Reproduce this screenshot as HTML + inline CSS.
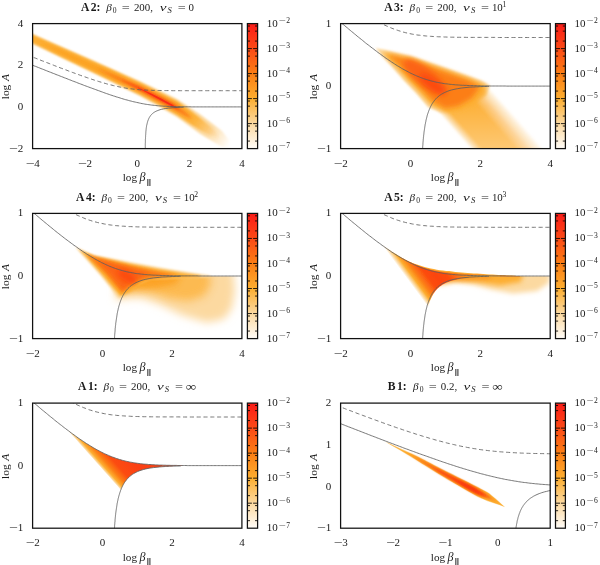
<!DOCTYPE html>
<html><head><meta charset="utf-8"><title>figure</title>
<style>html,body{margin:0;padding:0;background:#fff}svg{display:block}</style></head>
<body>
<svg width="600" height="565" viewBox="0 0 600 565">
<defs>
<filter id="b05" x="-50%" y="-50%" width="200%" height="200%"><feGaussianBlur stdDeviation="0.5"/></filter>
<filter id="b08" x="-50%" y="-50%" width="200%" height="200%"><feGaussianBlur stdDeviation="0.8"/></filter>
<filter id="b1" x="-50%" y="-50%" width="200%" height="200%"><feGaussianBlur stdDeviation="1.0"/></filter>
<filter id="b15" x="-50%" y="-50%" width="200%" height="200%"><feGaussianBlur stdDeviation="1.5"/></filter>
<filter id="b2" x="-50%" y="-50%" width="200%" height="200%"><feGaussianBlur stdDeviation="2.0"/></filter>
<filter id="b25" x="-50%" y="-50%" width="200%" height="200%"><feGaussianBlur stdDeviation="2.5"/></filter>
<filter id="b3" x="-50%" y="-50%" width="200%" height="200%"><feGaussianBlur stdDeviation="3.0"/></filter>
<filter id="b4" x="-50%" y="-50%" width="200%" height="200%"><feGaussianBlur stdDeviation="4.0"/></filter>
<filter id="b5" x="-50%" y="-50%" width="200%" height="200%"><feGaussianBlur stdDeviation="5.0"/></filter>
<filter id="b6" x="-50%" y="-50%" width="200%" height="200%"><feGaussianBlur stdDeviation="6.0"/></filter>
<linearGradient id="cb" x1="0" y1="0" x2="0" y2="1">
<stop offset="0.0" stop-color="#fb1c18"/>
<stop offset="0.2" stop-color="#fb4a16"/>
<stop offset="0.4" stop-color="#fc7e14"/>
<stop offset="0.6" stop-color="#fdae30"/>
<stop offset="0.8" stop-color="#fcd9a0"/>
<stop offset="1.0" stop-color="#fffcf8"/>
</linearGradient>
<clipPath id="cp0"><rect x="32.6" y="23.6" width="209.3" height="125.0"/></clipPath>
<clipPath id="cp1"><rect x="340.6" y="23.6" width="209.6" height="125.0"/></clipPath>
<clipPath id="cp2"><rect x="32.6" y="213.4" width="209.3" height="125.2"/></clipPath>
<clipPath id="cp3"><rect x="340.6" y="213.4" width="209.6" height="125.2"/></clipPath>
<clipPath id="cp4"><rect x="32.6" y="403.1" width="209.3" height="125.1"/></clipPath>
<clipPath id="cp5"><rect x="340.6" y="403.1" width="209.6" height="125.1"/></clipPath>
<linearGradient id="a2p" gradientUnits="userSpaceOnUse" x1="200.0" y1="124.0" x2="229.0" y2="144.0">
<stop offset="0.000" stop-color="#fcd9a0" stop-opacity="1"/>
<stop offset="0.350" stop-color="#fcd9a0" stop-opacity="0.9"/>
<stop offset="1.000" stop-color="#fcd9a0" stop-opacity="0.05"/>
</linearGradient>
<linearGradient id="a2o" gradientUnits="userSpaceOnUse" x1="186.0" y1="114.0" x2="216.0" y2="135.0">
<stop offset="0.000" stop-color="#fdae30" stop-opacity="1"/>
<stop offset="0.300" stop-color="#fdae30" stop-opacity="0.9"/>
<stop offset="1.000" stop-color="#fdae30" stop-opacity="0.1"/>
</linearGradient>
<linearGradient id="a3t" gradientUnits="userSpaceOnUse" x1="446.0" y1="121.0" x2="487.2" y2="84.7">
<stop offset="0.000" stop-color="#fcd9a0" stop-opacity="0"/>
<stop offset="0.060" stop-color="#fcd9a0" stop-opacity="0.9"/>
<stop offset="0.160" stop-color="#fdb23a" stop-opacity="1"/>
<stop offset="0.620" stop-color="#fdb23c" stop-opacity="1"/>
<stop offset="0.780" stop-color="#fdc678" stop-opacity="0.9"/>
<stop offset="0.920" stop-color="#fcd9a0" stop-opacity="0.5"/>
<stop offset="1.000" stop-color="#fcd9a0" stop-opacity="0"/>
</linearGradient>
<linearGradient id="a3w" x1="0" y1="0" x2="0" y2="1"><stop offset="0" stop-color="#fff" stop-opacity="0"/><stop offset="1" stop-color="#fff" stop-opacity="0.3"/></linearGradient>
<clipPath id="a5reg"><path d="M333.6 205.5 L334.7 206.4 L335.8 207.4 L336.9 208.3 L338.0 209.3 L339.1 210.2 L340.2 211.1 L341.4 212.1 L342.5 213.0 L343.6 214.0 L344.7 214.9 L345.8 215.8 L346.9 216.8 L348.0 217.7 L349.1 218.6 L350.2 219.5 L351.3 220.5 L352.4 221.4 L353.5 222.3 L354.6 223.2 L355.7 224.1 L356.8 225.0 L357.9 225.9 L359.0 226.8 L360.2 227.7 L361.3 228.6 L362.4 229.5 L363.5 230.4 L364.6 231.3 L365.7 232.2 L366.8 233.1 L367.9 233.9 L369.0 234.8 L370.1 235.7 L371.2 236.5 L372.3 237.4 L373.4 238.2 L374.5 239.1 L375.6 239.9 L376.7 240.7 L377.9 241.6 L379.0 242.4 L380.1 243.2 L381.2 244.0 L382.3 244.8 L383.4 245.6 L384.5 246.4 L385.6 247.2 L386.7 247.9 L387.8 248.7 L388.9 249.5 L390.0 250.2 L391.1 251.0 L392.2 251.7 L393.3 252.4 L394.4 253.1 L395.5 253.8 L396.7 254.5 L397.8 255.2 L398.9 255.9 L400.0 256.6 L401.1 257.2 L402.2 257.9 L403.3 258.5 L404.4 259.1 L405.5 259.7 L406.6 260.3 L407.7 260.9 L408.8 261.5 L409.9 262.0 L411.0 262.6 L412.1 263.1 L413.2 263.7 L414.3 264.2 L415.5 264.7 L416.6 265.1 L417.7 265.6 L418.8 266.1 L419.9 266.5 L421.0 266.9 L422.1 267.3 L423.2 267.7 L424.3 268.1 L425.4 268.5 L426.5 268.8 L427.6 269.2 L428.7 269.5 L429.8 269.8 L430.9 270.1 L432.0 270.4 L433.1 270.7 L434.3 271.0 L435.4 271.2 L436.5 271.5 L437.6 271.7 L438.7 271.9 L439.8 272.1 L440.9 272.3 L442.0 272.5 L443.1 272.7 L444.2 272.8 L445.3 273.0 L446.4 273.2 L447.5 273.3 L448.6 273.4 L449.7 273.6 L450.8 273.7 L451.9 273.8 L453.1 273.9 L454.2 274.0 L455.3 274.1 L456.4 274.2 L457.5 274.2 L458.6 274.3 L459.7 274.4 L460.8 274.5 L461.9 274.5 L463.0 274.6 L464.1 274.6 L465.2 274.7 L466.3 274.7 L467.4 274.8 L468.5 274.8 L469.6 274.9 L470.7 274.9 L471.9 274.9 L473.0 275.0 L474.1 275.0 L475.2 275.0 L476.3 275.1 L477.4 275.1 L478.5 275.1 L479.6 275.1 L480.7 275.1 L481.8 275.2 L482.9 275.2 L484.0 275.2 L485.1 275.2 L486.2 275.2 L487.3 275.2 L488.4 275.2 L489.5 275.3 L490.7 275.3 L491.8 275.3 L492.9 275.3 L494.0 275.3 L495.1 275.3 L496.2 275.3 L497.3 275.3 L498.4 275.3 L499.5 275.3 L500.6 275.3 L501.7 275.3 L502.8 275.3 L503.9 275.3 L505.0 275.3 L506.1 275.4 L507.2 275.4 L508.4 275.4 L509.5 275.4 L510.6 275.4 L511.7 275.4 L512.8 275.4 L513.9 275.4 L515.0 275.4 L516.1 275.4 L517.2 275.4 L518.3 275.4 L519.4 275.4 L520.5 275.4 L521.6 275.4 L522.7 275.4 L523.8 275.4 L524.9 275.4 L526.0 275.4 L527.2 275.4 L528.3 275.4 L529.4 275.4 L530.5 275.4 L531.6 275.4 L532.7 275.4 L533.8 275.4 L534.9 275.4 L536.0 275.4 L537.1 275.4 L538.2 275.4 L539.3 275.4 L540.4 275.4 L541.5 275.4 L542.6 275.4 L543.7 275.4 L544.8 275.4 L546.0 275.4 L547.1 275.4 L548.2 275.4 L549.3 275.4 L550.4 275.4 L551.5 275.4 L552.6 275.4 L553.7 275.4 L551.2 276.6 L549.8 276.6 L548.4 276.6 L547.0 276.6 L545.6 276.6 L544.2 276.6 L542.8 276.6 L541.5 276.6 L540.1 276.6 L538.7 276.6 L537.3 276.6 L535.9 276.6 L534.5 276.6 L533.1 276.6 L531.7 276.6 L530.3 276.6 L528.9 276.6 L527.5 276.6 L526.1 276.6 L524.7 276.6 L523.3 276.6 L522.0 276.6 L520.6 276.6 L519.2 276.6 L517.8 276.6 L516.4 276.7 L515.0 276.7 L513.6 276.7 L512.2 276.7 L510.8 276.7 L509.4 276.7 L508.0 276.7 L506.6 276.7 L505.2 276.7 L503.8 276.7 L502.5 276.7 L501.1 276.7 L499.7 276.8 L498.3 276.8 L496.9 276.8 L495.5 276.8 L494.1 276.8 L492.7 276.9 L491.3 276.9 L489.9 276.9 L488.5 276.9 L487.1 277.0 L485.7 277.0 L484.3 277.0 L483.0 277.1 L481.6 277.1 L480.2 277.2 L478.8 277.3 L477.4 277.3 L476.0 277.4 L474.6 277.5 L473.2 277.5 L471.8 277.6 L470.4 277.7 L469.0 277.9 L462.7 278.5 L458.3 279.2 L455.0 279.9 L452.4 280.5 L450.1 281.2 L448.3 281.9 L446.6 282.6 L445.2 283.2 L443.9 283.9 L442.7 284.6 L441.7 285.3 L440.7 285.9 L439.9 286.6 L439.0 287.3 L438.3 288.0 L437.6 288.6 L436.9 289.3 L436.3 290.0 L435.8 290.6 L435.2 291.3 L434.7 292.0 L434.2 292.7 L433.8 293.3 L433.3 294.0 L432.9 294.7 L432.5 295.4 L432.2 296.0 L431.8 296.7 L431.5 297.4 L431.2 298.1 L430.9 298.7 L430.6 299.4 L430.3 300.1 L430.0 300.7 L429.8 301.4 L429.5 302.1 L429.3 302.8 L429.1 303.4 L428.8 304.1 L428.6 304.8 L428.4 305.5 L428.2 306.1 L428.0 306.8 L427.9 307.5 L427.7 308.2 L427.5 308.8 L427.4 309.5 L427.2 310.2 L427.0 310.8 L426.9 311.5 L426.8 312.2 L426.6 312.9 L426.5 313.5 L426.4 314.2 L426.2 314.9 L426.1 315.6 L426.0 316.2 L425.9 316.9 L425.8 317.6 L425.7 318.3 L425.6 318.9 L425.5 319.6 L425.4 320.3 L425.3 320.9 L425.2 321.6 L425.1 322.3 L425.0 323.0 L424.9 323.6 L424.9 324.3 L424.8 325.0 L424.7 325.7 L424.6 326.3 L424.6 327.0 L424.5 327.7 L424.4 328.4 L424.4 329.0 L424.3 329.7 L424.2 330.4 L424.2 331.0 L424.1 331.7 L424.1 332.4 L424.0 333.1 L424.0 333.7 L423.9 334.4 L423.9 335.1 L423.8 335.8 L423.8 336.4 L423.7 337.1 L423.7 337.8 L423.6 338.5 L423.6 339.1 L423.5 339.8 L423.5 340.5 L423.5 341.1 L423.4 341.8 L423.4 342.5 L423.4 343.2 L423.3 343.8 L423.3 344.5 L423.3 345.2 L423.2 345.9 L423.2 346.5 L423.2 347.2 L423.1 347.9 L423.1 348.6 L423.1 349.2 L423.0 349.9 L423.0 350.6 L423.0 351.2 L423.0 351.9 L422.9 352.6 L422.9 353.3 L422.9 353.9 L422.9 354.6 L422.8 355.3 L422.8 356.0 L422.8 356.6 L422.8 357.3 L422.8 358.0 L422.8 368.6 L330.6 368.6Z"/></clipPath>
<linearGradient id="a5g" gradientUnits="userSpaceOnUse" x1="404.4" y1="275.1" x2="452.6" y2="239.4">
<stop offset="0.000" stop-color="#fcd9a0" stop-opacity="0"/>
<stop offset="0.037" stop-color="#fcd9a0" stop-opacity="0.9"/>
<stop offset="0.092" stop-color="#fdae30" stop-opacity="1"/>
<stop offset="0.175" stop-color="#fc7e14" stop-opacity="1"/>
<stop offset="0.292" stop-color="#fc4c10" stop-opacity="1"/>
<stop offset="0.417" stop-color="#fb4410" stop-opacity="1"/>
<stop offset="0.567" stop-color="#fc4c10" stop-opacity="1"/>
<stop offset="0.750" stop-color="#fc7e14" stop-opacity="1"/>
<stop offset="1.000" stop-color="#fdae30" stop-opacity="1"/>
</linearGradient>
<clipPath id="a1reg"><path d="M25.6 395.8 L26.7 396.7 L27.8 397.7 L28.9 398.6 L30.0 399.6 L31.1 400.5 L32.2 401.4 L33.4 402.4 L34.5 403.3 L35.6 404.3 L36.7 405.2 L37.8 406.1 L38.9 407.1 L40.0 408.0 L41.1 408.9 L42.2 409.8 L43.3 410.8 L44.4 411.7 L45.5 412.6 L46.6 413.5 L47.7 414.4 L48.8 415.3 L49.9 416.2 L51.0 417.1 L52.1 418.0 L53.2 418.9 L54.3 419.8 L55.4 420.7 L56.5 421.6 L57.6 422.5 L58.8 423.3 L59.9 424.2 L61.0 425.1 L62.1 425.9 L63.2 426.8 L64.3 427.6 L65.4 428.5 L66.5 429.3 L67.6 430.2 L68.7 431.0 L69.8 431.8 L70.9 432.7 L72.0 433.5 L73.1 434.3 L74.2 435.1 L75.3 435.9 L76.4 436.7 L77.5 437.4 L78.6 438.2 L79.7 439.0 L80.8 439.7 L81.9 440.5 L83.0 441.2 L84.2 442.0 L85.3 442.7 L86.4 443.4 L87.5 444.1 L88.6 444.8 L89.7 445.5 L90.8 446.2 L91.9 446.8 L93.0 447.5 L94.1 448.1 L95.2 448.8 L96.3 449.4 L97.4 450.0 L98.5 450.6 L99.6 451.2 L100.7 451.7 L101.8 452.3 L102.9 452.9 L104.0 453.4 L105.1 453.9 L106.2 454.4 L107.3 454.9 L108.4 455.4 L109.6 455.9 L110.7 456.3 L111.8 456.8 L112.9 457.2 L114.0 457.6 L115.1 458.0 L116.2 458.4 L117.3 458.7 L118.4 459.1 L119.5 459.4 L120.6 459.8 L121.7 460.1 L122.8 460.4 L123.9 460.7 L125.0 461.0 L126.1 461.2 L127.2 461.5 L128.3 461.7 L129.4 461.9 L130.5 462.2 L131.6 462.4 L132.7 462.6 L133.8 462.8 L135.0 462.9 L136.1 463.1 L137.2 463.3 L138.3 463.4 L139.4 463.5 L140.5 463.7 L141.6 463.8 L142.7 463.9 L143.8 464.0 L144.9 464.1 L146.0 464.2 L147.1 464.3 L148.2 464.4 L149.3 464.5 L150.4 464.6 L151.5 464.6 L152.6 464.7 L153.7 464.8 L154.8 464.8 L155.9 464.9 L157.0 464.9 L158.1 465.0 L159.2 465.0 L160.4 465.1 L161.5 465.1 L162.6 465.2 L163.7 465.2 L164.8 465.2 L165.9 465.2 L167.0 465.3 L168.1 465.3 L169.2 465.3 L170.3 465.3 L171.4 465.4 L172.5 465.4 L173.6 465.4 L174.7 465.4 L175.8 465.4 L176.9 465.5 L178.0 465.5 L179.1 465.5 L180.2 465.5 L181.3 465.5 L182.4 465.5 L183.5 465.5 L184.6 465.5 L185.8 465.5 L186.9 465.5 L188.0 465.6 L189.1 465.6 L190.2 465.6 L191.3 465.6 L192.4 465.6 L193.5 465.6 L194.6 465.6 L195.7 465.6 L196.8 465.6 L197.9 465.6 L199.0 465.6 L200.1 465.6 L201.2 465.6 L202.3 465.6 L203.4 465.6 L204.5 465.6 L205.6 465.6 L206.7 465.6 L207.8 465.6 L208.9 465.6 L210.0 465.6 L211.2 465.6 L212.3 465.6 L213.4 465.6 L214.5 465.6 L215.6 465.6 L216.7 465.6 L217.8 465.6 L218.9 465.6 L220.0 465.6 L221.1 465.6 L222.2 465.6 L223.3 465.6 L224.4 465.6 L225.5 465.6 L226.6 465.6 L227.7 465.6 L228.8 465.6 L229.9 465.6 L231.0 465.6 L232.1 465.6 L233.2 465.6 L234.3 465.6 L235.4 465.6 L236.6 465.6 L237.7 465.6 L238.8 465.6 L239.9 465.6 L241.0 465.6 L242.1 465.6 L243.2 465.6 L244.3 465.6 L245.4 465.6 L241.9 465.7 L240.5 465.7 L239.1 465.7 L237.7 465.7 L236.3 465.7 L234.9 465.7 L233.6 465.7 L232.2 465.7 L230.8 465.7 L229.4 465.7 L228.0 465.7 L226.6 465.7 L225.2 465.7 L223.8 465.7 L222.4 465.7 L221.0 465.7 L219.6 465.7 L218.3 465.7 L216.9 465.7 L215.5 465.7 L214.1 465.7 L212.7 465.7 L211.3 465.7 L209.9 465.7 L208.5 465.7 L207.1 465.7 L205.7 465.7 L204.3 465.7 L203.0 465.7 L201.6 465.7 L200.2 465.7 L198.8 465.7 L197.4 465.8 L196.0 465.8 L194.6 465.8 L193.2 465.8 L191.8 465.8 L190.4 465.8 L189.1 465.8 L187.7 465.8 L186.3 465.9 L184.9 465.9 L183.5 465.9 L182.1 465.9 L180.7 466.0 L179.3 466.0 L177.9 466.0 L176.5 466.1 L175.1 466.1 L173.8 466.1 L172.4 466.2 L171.0 466.2 L169.6 466.3 L168.2 466.4 L166.8 466.4 L165.4 466.5 L164.0 466.6 L162.6 466.7 L161.2 466.8 L159.8 466.9 L153.5 467.6 L149.2 468.2 L145.8 468.9 L143.2 469.6 L141.0 470.3 L139.1 470.9 L137.5 471.6 L136.0 472.3 L134.8 473.0 L133.6 473.6 L132.5 474.3 L131.6 475.0 L130.7 475.6 L129.9 476.3 L129.2 477.0 L128.5 477.7 L127.8 478.3 L127.2 479.0 L126.6 479.7 L126.1 480.4 L125.6 481.0 L125.1 481.7 L124.6 482.4 L124.2 483.0 L123.8 483.7 L123.4 484.4 L123.0 485.1 L122.7 485.7 L122.4 486.4 L122.0 487.1 L121.7 487.8 L121.4 488.4 L121.2 489.1 L120.9 489.8 L120.6 490.4 L120.4 491.1 L120.2 491.8 L119.9 492.5 L119.7 493.1 L119.5 493.8 L119.3 494.5 L119.1 495.2 L118.9 495.8 L118.7 496.5 L118.6 497.2 L118.4 497.9 L118.2 498.5 L118.1 499.2 L117.9 499.9 L117.8 500.5 L117.6 501.2 L117.5 501.9 L117.4 502.6 L117.2 503.2 L117.1 503.9 L117.0 504.6 L116.9 505.3 L116.8 505.9 L116.7 506.6 L116.6 507.3 L116.5 507.9 L116.4 508.6 L116.3 509.3 L116.2 510.0 L116.1 510.6 L116.0 511.3 L115.9 512.0 L115.8 512.7 L115.7 513.3 L115.7 514.0 L115.6 514.7 L115.5 515.3 L115.4 516.0 L115.4 516.7 L115.3 517.4 L115.2 518.0 L115.2 518.7 L115.1 519.4 L115.1 520.1 L115.0 520.7 L115.0 521.4 L114.9 522.1 L114.8 522.7 L114.8 523.4 L114.7 524.1 L114.7 524.8 L114.6 525.4 L114.6 526.1 L114.6 526.8 L114.5 527.5 L114.5 528.1 L114.4 528.8 L114.4 529.5 L114.3 530.1 L114.3 530.8 L114.3 531.5 L114.2 532.2 L114.2 532.8 L114.2 533.5 L114.1 534.2 L114.1 534.9 L114.1 535.5 L114.0 536.2 L114.0 536.9 L114.0 537.5 L114.0 538.2 L113.9 538.9 L113.9 539.6 L113.9 540.2 L113.8 540.9 L113.8 541.6 L113.8 542.3 L113.8 542.9 L113.8 543.6 L113.7 544.3 L113.7 544.9 L113.7 545.6 L113.7 546.3 L113.6 547.0 L113.6 558.2 L22.6 558.2Z"/></clipPath>
<linearGradient id="a1g" gradientUnits="userSpaceOnUse" x1="95.8" y1="462.2" x2="133.1" y2="429.0">
<stop offset="0.000" stop-color="#fcd9a0" stop-opacity="0"/>
<stop offset="0.020" stop-color="#fcd9a0" stop-opacity="1"/>
<stop offset="0.064" stop-color="#fdae30" stop-opacity="1"/>
<stop offset="0.150" stop-color="#fc7e14" stop-opacity="1"/>
<stop offset="0.280" stop-color="#fc4c10" stop-opacity="1"/>
<stop offset="0.560" stop-color="#fb4014" stop-opacity="1"/>
<stop offset="1.000" stop-color="#fb4414" stop-opacity="1"/>
</linearGradient>
</defs>
<rect width="600" height="565" fill="#fff"/>
<g clip-path="url(#cp0)">
<path d="M26.0 31.1 L32.6 34.0 L60.0 46.0 L90.0 59.1 L111.0 68.4 L140.0 81.2 L162.0 91.8 L177.0 99.0 L200.0 114.2 L222.0 131.0 L229.0 140.0 L229.0 148.0 L222.0 147.0 L200.0 133.8 L177.0 117.0 L162.0 108.2 L140.0 96.0 L111.0 81.6 L90.0 71.5 L60.0 57.0 L32.6 43.8 L26.0 40.7Z" fill="url(#a2p)" filter="url(#b1)"/>
<path d="M26.0 31.8 L32.6 34.7 L60.0 46.8 L90.0 60.0 L111.0 69.3 L140.0 82.5 L162.0 93.4 L177.0 101.0 L190.0 110.2 L200.0 118.0 L210.0 126.3 L218.0 133.8 L218.0 138.8 L210.0 135.3 L200.0 130.0 L190.0 123.8 L177.0 115.0 L162.0 106.6 L140.0 94.7 L111.0 80.7 L90.0 70.6 L60.0 56.2 L32.6 43.1 L26.0 40.0Z" fill="url(#a2o)" filter="url(#b1)"/>
<path d="M40.0 42.0 L60.0 49.5 L90.0 62.4 L111.0 71.7 L125.0 78.6 L125.0 84.6 L111.0 78.3 L90.0 68.2 L60.0 53.5 L40.0 42.6Z" fill="#fca220" filter="url(#b15)"/>
<path d="M98.0 68.7 L115.0 75.3 L130.0 81.3 L140.0 85.6 L162.0 96.6 L177.0 104.6 L185.0 111.4 L192.0 118.1 L192.0 118.7 L185.0 115.8 L177.0 111.4 L162.0 103.4 L140.0 91.6 L130.0 86.5 L115.0 78.5 L98.0 69.3Z" fill="#fc7e14" filter="url(#b15)"/>
<path d="M122.0 80.0 L132.0 83.9 L140.0 87.2 L162.0 98.3 L172.0 103.6 L179.0 109.1 L179.0 109.7 L172.0 107.0 L162.0 101.7 L140.0 90.0 L132.0 85.7 L122.0 80.4Z" fill="#fc4c10" filter="url(#b08)"/>
<path d="M138.0 87.5 L150.0 93.1 L162.0 99.1 L172.0 104.4 L177.0 107.8 L177.0 108.2 L172.0 106.2 L162.0 100.9 L150.0 94.5 L138.0 87.9Z" fill="#f82a16" filter="url(#b05)"/>
<path d="M27.4 63.1 L28.7 63.7 L30.1 64.2 L31.5 64.8 L32.8 65.3 L34.2 65.9 L35.6 66.4 L36.9 66.9 L38.3 67.5 L39.7 68.0 L41.0 68.6 L42.4 69.1 L43.8 69.6 L45.1 70.2 L46.5 70.7 L47.9 71.3 L49.2 71.8 L50.6 72.3 L52.0 72.9 L53.3 73.4 L54.7 73.9 L56.0 74.5 L57.4 75.0 L58.8 75.5 L60.1 76.1 L61.5 76.6 L62.9 77.1 L64.2 77.7 L65.6 78.2 L67.0 78.7 L68.3 79.3 L69.7 79.8 L71.1 80.3 L72.4 80.9 L73.8 81.4 L75.2 81.9 L76.5 82.4 L77.9 83.0 L79.3 83.5 L80.6 84.0 L82.0 84.5 L83.4 85.1 L84.7 85.6 L86.1 86.1 L87.5 86.6 L88.8 87.1 L90.2 87.6 L91.6 88.1 L92.9 88.6 L94.3 89.1 L95.7 89.6 L97.0 90.1 L98.4 90.6 L99.8 91.1 L101.1 91.6 L102.5 92.1 L103.8 92.6 L105.2 93.1 L106.6 93.6 L107.9 94.0 L109.3 94.5 L110.7 95.0 L112.0 95.4 L113.4 95.9 L114.8 96.3 L116.1 96.8 L117.5 97.2 L118.9 97.6 L120.2 98.0 L121.6 98.5 L123.0 98.9 L124.3 99.3 L125.7 99.7 L127.1 100.0 L128.4 100.4 L129.8 100.8 L131.2 101.1 L132.5 101.5 L133.9 101.8 L135.3 102.1 L136.6 102.4 L138.0 102.7 L139.4 103.0 L140.7 103.3 L142.1 103.6 L143.5 103.8 L144.8 104.1 L146.2 104.3 L147.6 104.5 L148.9 104.7 L150.3 104.9 L151.6 105.1 L153.0 105.2 L154.4 105.4 L155.7 105.5 L157.1 105.7 L158.5 105.8 L159.8 105.9 L161.2 106.0 L162.6 106.1 L163.9 106.2 L165.3 106.2 L166.7 106.3 L168.0 106.4 L169.4 106.4 L170.8 106.5 L172.1 106.5 L173.5 106.6 L174.9 106.6 L176.2 106.7 L177.6 106.7 L179.0 106.7 L180.3 106.7 L181.7 106.8 L183.1 106.8 L184.4 106.8 L185.8 106.8 L187.2 106.8 L188.5 106.8 L189.9 106.8 L191.3 106.9 L192.6 106.9 L194.0 106.9 L195.4 106.9 L196.7 106.9 L198.1 106.9 L199.4 106.9 L200.8 106.9 L202.2 106.9 L203.5 106.9 L204.9 106.9 L206.3 106.9 L207.6 106.9 L209.0 106.9 L210.4 106.9 L211.7 106.9 L213.1 106.9 L214.5 106.9 L215.8 106.9 L217.2 106.9 L218.6 106.9 L219.9 106.9 L221.3 106.9 L222.7 106.9 L224.0 106.9 L225.4 106.9 L226.8 106.9 L228.1 106.9 L229.5 106.9 L230.9 106.9 L232.2 106.9 L233.6 106.9 L235.0 106.9 L236.3 106.9 L237.7 106.9 L239.1 106.9 L240.4 106.9 L241.8 106.9 L243.2 106.9 L244.5 106.9" fill="none" stroke="#606060" stroke-width="0.85"/>
<path d="M145.2 154.8 L145.2 154.5 L145.2 154.1 L145.2 153.7 L145.2 153.3 L145.2 152.9 L145.2 152.5 L145.2 152.1 L145.2 151.7 L145.2 151.3 L145.2 150.9 L145.2 150.5 L145.2 150.1 L145.2 149.7 L145.2 149.3 L145.2 148.9 L145.2 148.5 L145.2 148.1 L145.3 147.7 L145.3 147.3 L145.3 146.9 L145.3 146.5 L145.3 146.1 L145.3 145.7 L145.3 145.3 L145.3 144.9 L145.3 144.5 L145.3 144.1 L145.3 143.7 L145.3 143.3 L145.3 142.9 L145.4 142.5 L145.4 142.1 L145.4 141.7 L145.4 141.3 L145.4 140.9 L145.4 140.5 L145.4 140.1 L145.4 139.7 L145.4 139.3 L145.5 138.9 L145.5 138.5 L145.5 138.1 L145.5 137.7 L145.5 137.3 L145.5 136.9 L145.6 136.5 L145.6 136.1 L145.6 135.7 L145.6 135.3 L145.7 134.9 L145.7 134.5 L145.7 134.1 L145.7 133.7 L145.8 133.3 L145.8 132.9 L145.8 132.5 L145.9 132.1 L145.9 131.7 L145.9 131.3 L146.0 130.9 L146.0 130.5 L146.0 130.1 L146.1 129.7 L146.1 129.3 L146.2 128.9 L146.2 128.5 L146.3 128.1 L146.3 127.7 L146.4 127.3 L146.4 126.9 L146.5 126.5 L146.6 126.1 L146.6 125.7 L146.7 125.3 L146.8 124.9 L146.9 124.5 L147.0 124.1 L147.1 123.7 L147.2 123.3 L147.3 122.9 L147.4 122.5 L147.5 122.1 L147.6 121.7 L147.7 121.3 L147.8 120.9 L148.0 120.5 L148.1 120.1 L148.3 119.7 L148.5 119.3 L148.6 118.9 L148.8 118.5 L149.0 118.1 L149.2 117.7 L149.5 117.3 L149.7 116.9 L150.0 116.5 L150.2 116.1 L150.5 115.7 L150.8 115.3 L151.2 114.9 L151.5 114.5 L151.9 114.1 L152.4 113.7 L152.8 113.3 L153.3 112.9 L153.9 112.5 L154.5 112.1 L155.2 111.7 L156.0 111.3 L156.8 110.9 L157.8 110.5 L158.9 110.1 L160.1 109.7 L161.6 109.3 L163.4 108.9 L165.7 108.5 L168.7 108.1 L173.0 107.7 L180.4 107.3 L181.4 107.3 L182.4 107.3 L183.5 107.2" fill="none" stroke="#606060" stroke-width="0.85"/>
<path d="M27.4 55.0 L28.7 55.5 L30.1 56.1 L31.5 56.6 L32.8 57.1 L34.2 57.7 L35.6 58.2 L36.9 58.7 L38.3 59.3 L39.7 59.8 L41.0 60.4 L42.4 60.9 L43.8 61.4 L45.1 62.0 L46.5 62.5 L47.9 63.0 L49.2 63.5 L50.6 64.1 L52.0 64.6 L53.3 65.1 L54.7 65.7 L56.0 66.2 L57.4 66.7 L58.8 67.2 L60.1 67.8 L61.5 68.3 L62.9 68.8 L64.2 69.3 L65.6 69.8 L67.0 70.3 L68.3 70.9 L69.7 71.4 L71.1 71.9 L72.4 72.4 L73.8 72.9 L75.2 73.4 L76.5 73.9 L77.9 74.4 L79.3 74.9 L80.6 75.4 L82.0 75.9 L83.4 76.3 L84.7 76.8 L86.1 77.3 L87.5 77.8 L88.8 78.2 L90.2 78.7 L91.6 79.2 L92.9 79.6 L94.3 80.1 L95.7 80.5 L97.0 80.9 L98.4 81.4 L99.8 81.8 L101.1 82.2 L102.5 82.6 L103.8 83.0 L105.2 83.4 L106.6 83.8 L107.9 84.2 L109.3 84.5 L110.7 84.9 L112.0 85.2 L113.4 85.6 L114.8 85.9 L116.1 86.2 L117.5 86.5 L118.9 86.8 L120.2 87.1 L121.6 87.3 L123.0 87.6 L124.3 87.8 L125.7 88.1 L127.1 88.3 L128.4 88.5 L129.8 88.7 L131.2 88.8 L132.5 89.0 L133.9 89.2 L135.3 89.3 L136.6 89.4 L138.0 89.6 L139.4 89.7 L140.7 89.8 L142.1 89.9 L143.5 90.0 L144.8 90.0 L146.2 90.1 L147.6 90.2 L148.9 90.2 L150.3 90.3 L151.6 90.3 L153.0 90.4 L154.4 90.4 L155.7 90.4 L157.1 90.5 L158.5 90.5 L159.8 90.5 L161.2 90.5 L162.6 90.6 L163.9 90.6 L165.3 90.6 L166.7 90.6 L168.0 90.6 L169.4 90.6 L170.8 90.6 L172.1 90.7 L173.5 90.7 L174.9 90.7 L176.2 90.7 L177.6 90.7 L179.0 90.7 L180.3 90.7 L181.7 90.7 L183.1 90.7 L184.4 90.7 L185.8 90.7 L187.2 90.7 L188.5 90.7 L189.9 90.7 L191.3 90.7 L192.6 90.7 L194.0 90.7 L195.4 90.7 L196.7 90.7 L198.1 90.7 L199.4 90.7 L200.8 90.7 L202.2 90.7 L203.5 90.7 L204.9 90.7 L206.3 90.7 L207.6 90.7 L209.0 90.7 L210.4 90.7 L211.7 90.7 L213.1 90.7 L214.5 90.7 L215.8 90.7 L217.2 90.7 L218.6 90.7 L219.9 90.7 L221.3 90.7 L222.7 90.7 L224.0 90.7 L225.4 90.7 L226.8 90.7 L228.1 90.7 L229.5 90.7 L230.9 90.7 L232.2 90.7 L233.6 90.7 L235.0 90.7 L236.3 90.7 L237.7 90.7 L239.1 90.7 L240.4 90.7 L241.8 90.7 L243.2 90.7 L244.5 90.7" fill="none" stroke="#606060" stroke-width="0.85" stroke-dasharray="4.1 2.7"/>
</g>
<rect x="247.4" y="23.6" width="10.2" height="125.0" fill="url(#cb)"/>
<path d="M247.4 48.60h4.5M257.6 48.60h-4.5M247.4 41.07h2.6M257.6 41.07h-2.6M247.4 31.13h2.6M257.6 31.13h-2.6M247.4 26.02h2.6M257.6 26.02h-2.6M247.4 73.60h4.5M257.6 73.60h-4.5M247.4 66.07h2.6M257.6 66.07h-2.6M247.4 56.13h2.6M257.6 56.13h-2.6M247.4 51.02h2.6M257.6 51.02h-2.6M247.4 98.60h4.5M257.6 98.60h-4.5M247.4 91.07h2.6M257.6 91.07h-2.6M247.4 81.13h2.6M257.6 81.13h-2.6M247.4 76.02h2.6M257.6 76.02h-2.6M247.4 123.60h4.5M257.6 123.60h-4.5M247.4 116.07h2.6M257.6 116.07h-2.6M247.4 106.13h2.6M257.6 106.13h-2.6M247.4 101.02h2.6M257.6 101.02h-2.6M247.4 141.07h2.6M257.6 141.07h-2.6M247.4 131.13h2.6M257.6 131.13h-2.6M247.4 126.02h2.6M257.6 126.02h-2.6" stroke="#000" stroke-width="0.85" fill="none"/>
<rect x="247.4" y="23.6" width="10.2" height="125.0" fill="none" stroke="#111" stroke-width="1.25"/>
<rect x="32.6" y="23.6" width="209.3" height="125.0" fill="none" stroke="#111" stroke-width="1.25"/>
<g font-family="'Liberation Serif','DejaVu Serif',serif" fill="#1a1a1a">
<text transform="translate(25.50 166.80) scale(1.43 1)" font-size="11">−</text>
<text x="34.2" y="166.8" font-size="11">4</text>
<text transform="translate(77.83 166.80) scale(1.43 1)" font-size="11">−</text>
<text x="86.5" y="166.8" font-size="11">2</text>
<text x="137.2" y="166.8" font-size="11" text-anchor="middle">0</text>
<text x="189.6" y="166.8" font-size="11" text-anchor="middle">2</text>
<text x="241.9" y="166.8" font-size="11" text-anchor="middle">4</text>
<text x="23.3" y="151.6" font-size="11" text-anchor="end">2</text>
<text transform="translate(8.75 151.60) scale(1.43 1)" font-size="11">−</text>
<text x="23.3" y="109.9" font-size="11" text-anchor="end">0</text>
<text x="23.3" y="68.3" font-size="11" text-anchor="end">2</text>
<text x="23.3" y="26.6" font-size="11" text-anchor="end">4</text>
<text x="266.8" y="26.6" font-size="11">10</text>
<text transform="translate(278.80 23.00) scale(1.65 1)" font-size="7.6">−</text>
<text x="286.3" y="23.0" font-size="7.6">2</text>
<text x="266.8" y="51.6" font-size="11">10</text>
<text transform="translate(278.80 48.00) scale(1.65 1)" font-size="7.6">−</text>
<text x="286.3" y="48.0" font-size="7.6">3</text>
<text x="266.8" y="76.6" font-size="11">10</text>
<text transform="translate(278.80 73.00) scale(1.65 1)" font-size="7.6">−</text>
<text x="286.3" y="73.0" font-size="7.6">4</text>
<text x="266.8" y="101.6" font-size="11">10</text>
<text transform="translate(278.80 98.00) scale(1.65 1)" font-size="7.6">−</text>
<text x="286.3" y="98.0" font-size="7.6">5</text>
<text x="266.8" y="126.6" font-size="11">10</text>
<text transform="translate(278.80 123.00) scale(1.65 1)" font-size="7.6">−</text>
<text x="286.3" y="123.0" font-size="7.6">6</text>
<text x="266.8" y="151.6" font-size="11">10</text>
<text transform="translate(278.80 148.00) scale(1.65 1)" font-size="7.6">−</text>
<text x="286.3" y="148.0" font-size="7.6">7</text>
<text x="122.7" y="181.1" font-size="11.2">log</text>
<text x="139.4" y="181.1" font-size="12" font-style="italic">β</text>
<text transform="translate(145.90 185.60) scale(1.9 1)" font-size="10.8">‖</text>
<text transform="translate(8.8 86.7) rotate(-90)" font-size="11.4" text-anchor="middle" word-spacing="0.8">log <tspan font-style="italic">A</tspan></text>
<text x="81.0" y="11.3" font-size="11.6" font-weight="bold">A<tspan dx="1.4">2:</tspan></text>
<text x="106.2" y="11.3" font-size="11.2" font-style="italic">β</text>
<text x="112.8" y="13.2" font-size="7.6">0</text>
<text transform="translate(121.8 11.3) scale(1.3 1)" font-size="10.9">=</text>
<text x="133.9" y="11.3" font-size="10.9">200,</text>
<text transform="translate(159.8 11.3) scale(1.4 1)" font-size="10.9" font-style="italic">ν</text>
<text x="167.6" y="13.3" font-size="8.6" font-style="italic">S</text>
<text transform="translate(177.8 11.3) scale(1.3 1)" font-size="10.9">=</text>
<text x="188.6" y="11.3" font-size="10.9">0</text>
</g>
<g clip-path="url(#cp1)">
<path d="M375.5 48.0 L393.0 52.0 L411.0 56.0 L446.0 68.0 L470.0 76.5 L481.0 80.5 L490.0 85.5 L486.0 96.0 L472.0 106.0 L458.0 112.0 L442.0 113.0 L428.0 107.0 L416.0 93.0 L404.0 80.5 L393.0 68.0 L384.0 58.0Z" fill="#fcd9a0" filter="url(#b1)"/>
<path d="M424.0 102.0 L440.0 78.0 L490.0 85.5 L500.0 86.0 L552.0 153.0 L468.0 153.0Z" fill="url(#a3t)" filter="url(#b1)"/>
<rect x="440" y="105" width="112" height="45" fill="url(#a3w)"/>
<path d="M381.0 51.5 L393.0 54.0 L411.0 58.0 L446.0 70.0 L470.0 78.5 L486.0 85.0 L486.0 94.0 L474.0 104.0 L460.0 110.0 L446.0 112.0 L432.0 106.0 L419.0 92.0 L407.0 79.5 L396.0 67.0Z" fill="#fdae30" filter="url(#b2)"/>
<path d="M387.0 54.5 L411.0 60.5 L446.0 72.5 L468.0 80.5 L480.0 87.0 L472.0 98.0 L458.0 106.0 L445.0 108.0 L433.0 101.0 L421.0 88.0 L409.0 75.5 L398.0 63.0Z" fill="#fc7e14" filter="url(#b25)"/>
<ellipse cx="425.8" cy="77.5" rx="27.0" ry="8.5" transform="rotate(38.0 425.8 77.5)" fill="#fc6412" filter="url(#b25)"/>
<ellipse cx="432.0" cy="83.5" rx="15.0" ry="5.5" transform="rotate(38.0 432.0 83.5)" fill="#fc4c10" filter="url(#b25)"/>
<path d="M333.6 16.3 L335.0 17.5 L336.4 18.6 L337.8 19.8 L339.1 21.0 L340.5 22.2 L341.9 23.4 L343.3 24.5 L344.7 25.7 L346.1 26.9 L347.5 28.0 L348.8 29.2 L350.2 30.3 L351.6 31.5 L353.0 32.6 L354.4 33.8 L355.8 34.9 L357.1 36.1 L358.5 37.2 L359.9 38.3 L361.3 39.4 L362.7 40.5 L364.1 41.7 L365.4 42.8 L366.8 43.9 L368.2 44.9 L369.6 46.0 L371.0 47.1 L372.4 48.2 L373.8 49.2 L375.1 50.3 L376.5 51.3 L377.9 52.4 L379.3 53.4 L380.7 54.4 L382.1 55.4 L383.4 56.4 L384.8 57.4 L386.2 58.4 L387.6 59.3 L389.0 60.3 L390.4 61.2 L391.7 62.1 L393.1 63.0 L394.5 63.9 L395.9 64.8 L397.3 65.7 L398.7 66.5 L400.1 67.3 L401.4 68.2 L402.8 69.0 L404.2 69.7 L405.6 70.5 L407.0 71.2 L408.4 72.0 L409.7 72.7 L411.1 73.4 L412.5 74.0 L413.9 74.7 L415.3 75.3 L416.7 75.9 L418.0 76.5 L419.4 77.0 L420.8 77.6 L422.2 78.1 L423.6 78.6 L425.0 79.1 L426.4 79.5 L427.7 79.9 L429.1 80.3 L430.5 80.7 L431.9 81.1 L433.3 81.4 L434.7 81.8 L436.0 82.1 L437.4 82.4 L438.8 82.6 L440.2 82.9 L441.6 83.1 L443.0 83.4 L444.3 83.6 L445.7 83.8 L447.1 83.9 L448.5 84.1 L449.9 84.3 L451.3 84.4 L452.7 84.6 L454.0 84.7 L455.4 84.8 L456.8 84.9 L458.2 85.0 L459.6 85.1 L461.0 85.2 L462.3 85.3 L463.7 85.3 L465.1 85.4 L466.5 85.4 L467.9 85.5 L469.3 85.6 L470.6 85.6 L472.0 85.6 L473.4 85.7 L474.8 85.7 L476.2 85.7 L477.6 85.8 L478.9 85.8 L480.3 85.8 L481.7 85.9 L483.1 85.9 L484.5 85.9 L485.9 85.9 L487.3 85.9 L488.6 85.9 L490.0 86.0 L491.4 86.0 L492.8 86.0 L494.2 86.0 L495.6 86.0 L496.9 86.0 L498.3 86.0 L499.7 86.0 L501.1 86.0 L502.5 86.0 L503.9 86.0 L505.2 86.0 L506.6 86.1 L508.0 86.1 L509.4 86.1 L510.8 86.1 L512.2 86.1 L513.6 86.1 L514.9 86.1 L516.3 86.1 L517.7 86.1 L519.1 86.1 L520.5 86.1 L521.9 86.1 L523.2 86.1 L524.6 86.1 L526.0 86.1 L527.4 86.1 L528.8 86.1 L530.2 86.1 L531.5 86.1 L532.9 86.1 L534.3 86.1 L535.7 86.1 L537.1 86.1 L538.5 86.1 L539.9 86.1 L541.2 86.1 L542.6 86.1 L544.0 86.1 L545.4 86.1 L546.8 86.1 L548.2 86.1 L549.5 86.1 L550.9 86.1 L552.3 86.1 L553.7 86.1" fill="none" stroke="#606060" stroke-width="0.85"/>
<path d="M421.8 167.3 L421.8 166.7 L421.8 166.0 L421.8 165.3 L421.8 164.7 L421.9 164.0 L421.9 163.3 L421.9 162.6 L421.9 162.0 L422.0 161.3 L422.0 160.6 L422.0 160.0 L422.0 159.3 L422.1 158.6 L422.1 157.9 L422.1 157.3 L422.2 156.6 L422.2 155.9 L422.2 155.2 L422.3 154.6 L422.3 153.9 L422.3 153.2 L422.4 152.6 L422.4 151.9 L422.4 151.2 L422.5 150.5 L422.5 149.9 L422.5 149.2 L422.6 148.5 L422.6 147.9 L422.7 147.2 L422.7 146.5 L422.8 145.8 L422.8 145.2 L422.9 144.5 L422.9 143.8 L423.0 143.1 L423.0 142.5 L423.1 141.8 L423.1 141.1 L423.2 140.5 L423.2 139.8 L423.3 139.1 L423.4 138.4 L423.4 137.8 L423.5 137.1 L423.6 136.4 L423.6 135.8 L423.7 135.1 L423.8 134.4 L423.9 133.7 L423.9 133.1 L424.0 132.4 L424.1 131.7 L424.2 131.0 L424.3 130.4 L424.4 129.7 L424.5 129.0 L424.6 128.4 L424.7 127.7 L424.8 127.0 L424.9 126.3 L425.0 125.7 L425.1 125.0 L425.2 124.3 L425.4 123.7 L425.5 123.0 L425.6 122.3 L425.8 121.6 L425.9 121.0 L426.0 120.3 L426.2 119.6 L426.4 118.9 L426.5 118.3 L426.7 117.6 L426.9 116.9 L427.0 116.3 L427.2 115.6 L427.4 114.9 L427.6 114.2 L427.8 113.6 L428.1 112.9 L428.3 112.2 L428.5 111.6 L428.8 110.9 L429.0 110.2 L429.3 109.5 L429.6 108.9 L429.9 108.2 L430.2 107.5 L430.5 106.8 L430.8 106.2 L431.2 105.5 L431.5 104.8 L431.9 104.2 L432.3 103.5 L432.8 102.8 L433.2 102.1 L433.7 101.5 L434.2 100.8 L434.8 100.1 L435.3 99.5 L435.9 98.8 L436.6 98.1 L437.3 97.4 L438.0 96.8 L438.9 96.1 L439.7 95.4 L440.7 94.7 L441.7 94.1 L442.9 93.4 L444.2 92.7 L445.6 92.1 L447.3 91.4 L449.1 90.7 L451.4 90.0 L454.0 89.4 L457.3 88.7 L461.7 88.0 L468.0 87.3 L469.4 87.2 L470.8 87.1 L472.2 87.0 L473.6 87.0 L475.0 86.9 L476.4 86.8 L477.8 86.8 L479.2 86.7 L480.6 86.6 L482.0 86.6 L483.3 86.5 L484.7 86.5 L486.1 86.5 L487.5 86.4 L488.9 86.4" fill="none" stroke="#606060" stroke-width="0.85"/>
<path d="M333.6 -9.6 L335.0 -8.5 L336.4 -7.4 L337.8 -6.3 L339.1 -5.2 L340.5 -4.1 L341.9 -3.0 L343.3 -1.9 L344.7 -0.9 L346.1 0.2 L347.5 1.3 L348.8 2.3 L350.2 3.3 L351.6 4.4 L353.0 5.4 L354.4 6.4 L355.8 7.4 L357.1 8.4 L358.5 9.4 L359.9 10.3 L361.3 11.3 L362.7 12.2 L364.1 13.2 L365.4 14.1 L366.8 15.0 L368.2 15.9 L369.6 16.7 L371.0 17.6 L372.4 18.4 L373.8 19.2 L375.1 20.0 L376.5 20.8 L377.9 21.6 L379.3 22.3 L380.7 23.1 L382.1 23.8 L383.4 24.5 L384.8 25.2 L386.2 25.8 L387.6 26.4 L389.0 27.0 L390.4 27.6 L391.7 28.2 L393.1 28.7 L394.5 29.3 L395.9 29.8 L397.3 30.2 L398.7 30.7 L400.1 31.1 L401.4 31.6 L402.8 32.0 L404.2 32.3 L405.6 32.7 L407.0 33.0 L408.4 33.3 L409.7 33.6 L411.1 33.9 L412.5 34.2 L413.9 34.4 L415.3 34.6 L416.7 34.9 L418.0 35.1 L419.4 35.2 L420.8 35.4 L422.2 35.6 L423.6 35.7 L425.0 35.9 L426.4 36.0 L427.7 36.1 L429.1 36.2 L430.5 36.3 L431.9 36.4 L433.3 36.5 L434.7 36.6 L436.0 36.7 L437.4 36.7 L438.8 36.8 L440.2 36.8 L441.6 36.9 L443.0 36.9 L444.3 37.0 L445.7 37.0 L447.1 37.1 L448.5 37.1 L449.9 37.1 L451.3 37.2 L452.7 37.2 L454.0 37.2 L455.4 37.2 L456.8 37.3 L458.2 37.3 L459.6 37.3 L461.0 37.3 L462.3 37.3 L463.7 37.3 L465.1 37.3 L466.5 37.4 L467.9 37.4 L469.3 37.4 L470.6 37.4 L472.0 37.4 L473.4 37.4 L474.8 37.4 L476.2 37.4 L477.6 37.4 L478.9 37.4 L480.3 37.4 L481.7 37.4 L483.1 37.4 L484.5 37.4 L485.9 37.4 L487.3 37.4 L488.6 37.4 L490.0 37.4 L491.4 37.4 L492.8 37.4 L494.2 37.4 L495.6 37.4 L496.9 37.5 L498.3 37.5 L499.7 37.5 L501.1 37.5 L502.5 37.5 L503.9 37.5 L505.2 37.5 L506.6 37.5 L508.0 37.5 L509.4 37.5 L510.8 37.5 L512.2 37.5 L513.6 37.5 L514.9 37.5 L516.3 37.5 L517.7 37.5 L519.1 37.5 L520.5 37.5 L521.9 37.5 L523.2 37.5 L524.6 37.5 L526.0 37.5 L527.4 37.5 L528.8 37.5 L530.2 37.5 L531.5 37.5 L532.9 37.5 L534.3 37.5 L535.7 37.5 L537.1 37.5 L538.5 37.5 L539.9 37.5 L541.2 37.5 L542.6 37.5 L544.0 37.5 L545.4 37.5 L546.8 37.5 L548.2 37.5 L549.5 37.5 L550.9 37.5 L552.3 37.5 L553.7 37.5" fill="none" stroke="#606060" stroke-width="0.85" stroke-dasharray="4.1 2.7"/>
</g>
<rect x="555.5" y="23.6" width="9.9" height="125.0" fill="url(#cb)"/>
<path d="M555.5 48.60h4.5M565.4 48.60h-4.5M555.5 41.07h2.6M565.4 41.07h-2.6M555.5 31.13h2.6M565.4 31.13h-2.6M555.5 26.02h2.6M565.4 26.02h-2.6M555.5 73.60h4.5M565.4 73.60h-4.5M555.5 66.07h2.6M565.4 66.07h-2.6M555.5 56.13h2.6M565.4 56.13h-2.6M555.5 51.02h2.6M565.4 51.02h-2.6M555.5 98.60h4.5M565.4 98.60h-4.5M555.5 91.07h2.6M565.4 91.07h-2.6M555.5 81.13h2.6M565.4 81.13h-2.6M555.5 76.02h2.6M565.4 76.02h-2.6M555.5 123.60h4.5M565.4 123.60h-4.5M555.5 116.07h2.6M565.4 116.07h-2.6M555.5 106.13h2.6M565.4 106.13h-2.6M555.5 101.02h2.6M565.4 101.02h-2.6M555.5 141.07h2.6M565.4 141.07h-2.6M555.5 131.13h2.6M565.4 131.13h-2.6M555.5 126.02h2.6M565.4 126.02h-2.6" stroke="#000" stroke-width="0.85" fill="none"/>
<rect x="555.5" y="23.6" width="9.9" height="125.0" fill="none" stroke="#111" stroke-width="1.25"/>
<rect x="340.6" y="23.6" width="209.6" height="125.0" fill="none" stroke="#111" stroke-width="1.25"/>
<g font-family="'Liberation Serif','DejaVu Serif',serif" fill="#1a1a1a">
<text transform="translate(333.50 166.80) scale(1.43 1)" font-size="11">−</text>
<text x="342.2" y="166.8" font-size="11">2</text>
<text x="410.5" y="166.8" font-size="11" text-anchor="middle">0</text>
<text x="480.3" y="166.8" font-size="11" text-anchor="middle">2</text>
<text x="550.2" y="166.8" font-size="11" text-anchor="middle">4</text>
<text x="331.3" y="151.6" font-size="11" text-anchor="end">1</text>
<text transform="translate(316.75 151.60) scale(1.43 1)" font-size="11">−</text>
<text x="331.3" y="89.1" font-size="11" text-anchor="end">0</text>
<text x="331.3" y="26.6" font-size="11" text-anchor="end">1</text>
<text x="574.6" y="26.6" font-size="11">10</text>
<text transform="translate(586.60 23.00) scale(1.65 1)" font-size="7.6">−</text>
<text x="594.1" y="23.0" font-size="7.6">2</text>
<text x="574.6" y="51.6" font-size="11">10</text>
<text transform="translate(586.60 48.00) scale(1.65 1)" font-size="7.6">−</text>
<text x="594.1" y="48.0" font-size="7.6">3</text>
<text x="574.6" y="76.6" font-size="11">10</text>
<text transform="translate(586.60 73.00) scale(1.65 1)" font-size="7.6">−</text>
<text x="594.1" y="73.0" font-size="7.6">4</text>
<text x="574.6" y="101.6" font-size="11">10</text>
<text transform="translate(586.60 98.00) scale(1.65 1)" font-size="7.6">−</text>
<text x="594.1" y="98.0" font-size="7.6">5</text>
<text x="574.6" y="126.6" font-size="11">10</text>
<text transform="translate(586.60 123.00) scale(1.65 1)" font-size="7.6">−</text>
<text x="594.1" y="123.0" font-size="7.6">6</text>
<text x="574.6" y="151.6" font-size="11">10</text>
<text transform="translate(586.60 148.00) scale(1.65 1)" font-size="7.6">−</text>
<text x="594.1" y="148.0" font-size="7.6">7</text>
<text x="430.8" y="181.1" font-size="11.2">log</text>
<text x="447.6" y="181.1" font-size="12" font-style="italic">β</text>
<text transform="translate(454.05 185.60) scale(1.9 1)" font-size="10.8">‖</text>
<text transform="translate(316.8 86.7) rotate(-90)" font-size="11.4" text-anchor="middle" word-spacing="0.8">log <tspan font-style="italic">A</tspan></text>
<text x="384.3" y="11.3" font-size="11.6" font-weight="bold">A<tspan dx="1.4">3:</tspan></text>
<text x="409.6" y="11.3" font-size="11.2" font-style="italic">β</text>
<text x="416.2" y="13.2" font-size="7.6">0</text>
<text transform="translate(425.2 11.3) scale(1.3 1)" font-size="10.9">=</text>
<text x="437.3" y="11.3" font-size="10.9">200,</text>
<text transform="translate(463.1 11.3) scale(1.4 1)" font-size="10.9" font-style="italic">ν</text>
<text x="470.9" y="13.3" font-size="8.6" font-style="italic">S</text>
<text transform="translate(481.1 11.3) scale(1.3 1)" font-size="10.9">=</text>
<text x="491.9" y="11.3" font-size="10.9">10</text>
<text x="502.5" y="6.9" font-size="7.6">1</text>
</g>
<g clip-path="url(#cp2)">
<clipPath id="a4c"><rect x="100" y="276.2" width="150" height="70"/></clipPath>
<g clip-path="url(#a4c)">
<path d="M116.0 270.0 L233.0 270.0 L235.0 290.0 L232.0 308.0 L224.0 319.0 L207.0 322.5 L182.0 315.0 L159.0 304.0 L142.0 298.0 L128.0 298.0 L116.0 300.0Z" fill="#fcd9a0" filter="url(#b4)"/>
<path d="M118.0 270.0 L208.0 270.0 L211.0 284.0 L204.0 296.0 L188.0 301.0 L168.0 298.0 L150.0 292.0 L135.0 290.0 L118.0 293.0Z" fill="#fdae30" filter="url(#b4)" opacity="0.72"/>
<path d="M118.0 272.0 L182.0 272.0 L176.0 284.0 L156.0 288.0 L137.0 289.0 L118.0 291.0Z" fill="#fca024" filter="url(#b3)" opacity="0.90"/>
</g>
<path d="M75.0 246.7 L84.0 251.0 L93.0 255.0 L110.0 257.9 L130.0 262.0 L160.0 267.5 L190.0 272.5 L209.0 275.3 L212.0 277.0 L150.0 279.0 L138.0 284.0 L130.0 290.0 L125.0 296.0 L119.0 298.4 L100.0 275.0 L85.0 258.0Z" fill="#fcd9a0" filter="url(#b08)"/>
<path d="M79.0 249.5 L88.0 253.5 L95.0 256.5 L110.0 259.8 L130.0 264.0 L160.0 269.5 L185.0 273.5 L200.0 275.5 L200.0 277.0 L150.0 280.0 L140.0 285.0 L130.0 292.0 L124.0 295.0 L120.0 296.0 L102.0 274.5 L87.0 257.5Z" fill="#fdae30" filter="url(#b1)"/>
<path d="M86.0 254.0 L100.0 258.5 L120.0 263.5 L140.0 268.0 L160.0 272.0 L178.0 275.0 L160.0 277.0 L145.0 279.0 L135.0 283.0 L128.0 288.0 L122.0 293.0 L106.0 274.0 L94.0 262.0Z" fill="#fc7e14" filter="url(#b15)"/>
<path d="M97.0 259.5 L115.0 264.5 L130.0 268.5 L150.0 273.5 L143.0 277.0 L134.0 280.0 L128.0 285.0 L123.0 290.0 L110.0 274.0 L102.0 265.0Z" fill="#fc6412" filter="url(#b2)"/>
<ellipse cx="127.0" cy="276.5" rx="11.0" ry="5.0" transform="rotate(32.0 127.0 276.5)" fill="#fc4c10" filter="url(#b25)"/>
<path d="M25.6 206.1 L27.0 207.3 L28.4 208.4 L29.8 209.6 L31.2 210.8 L32.5 212.0 L33.9 213.2 L35.3 214.3 L36.7 215.5 L38.1 216.7 L39.4 217.8 L40.8 219.0 L42.2 220.2 L43.6 221.3 L45.0 222.5 L46.4 223.6 L47.7 224.7 L49.1 225.9 L50.5 227.0 L51.9 228.1 L53.3 229.3 L54.6 230.4 L56.0 231.5 L57.4 232.6 L58.8 233.7 L60.2 234.8 L61.6 235.9 L62.9 236.9 L64.3 238.0 L65.7 239.1 L67.1 240.1 L68.5 241.2 L69.9 242.2 L71.2 243.2 L72.6 244.2 L74.0 245.3 L75.4 246.2 L76.8 247.2 L78.1 248.2 L79.5 249.2 L80.9 250.1 L82.3 251.1 L83.7 252.0 L85.1 252.9 L86.4 253.8 L87.8 254.7 L89.2 255.5 L90.6 256.4 L92.0 257.2 L93.3 258.0 L94.7 258.8 L96.1 259.6 L97.5 260.4 L98.9 261.1 L100.3 261.8 L101.6 262.6 L103.0 263.2 L104.4 263.9 L105.8 264.6 L107.2 265.2 L108.6 265.8 L109.9 266.4 L111.3 266.9 L112.7 267.5 L114.1 268.0 L115.5 268.5 L116.8 268.9 L118.2 269.4 L119.6 269.8 L121.0 270.2 L122.4 270.6 L123.8 271.0 L125.1 271.3 L126.5 271.7 L127.9 272.0 L129.3 272.3 L130.7 272.5 L132.1 272.8 L133.4 273.0 L134.8 273.3 L136.2 273.5 L137.6 273.7 L139.0 273.8 L140.3 274.0 L141.7 274.2 L143.1 274.3 L144.5 274.5 L145.9 274.6 L147.3 274.7 L148.6 274.8 L150.0 274.9 L151.4 275.0 L152.8 275.1 L154.2 275.2 L155.5 275.2 L156.9 275.3 L158.3 275.3 L159.7 275.4 L161.1 275.5 L162.5 275.5 L163.8 275.5 L165.2 275.6 L166.6 275.6 L168.0 275.6 L169.4 275.7 L170.8 275.7 L172.1 275.7 L173.5 275.8 L174.9 275.8 L176.3 275.8 L177.7 275.8 L179.0 275.8 L180.4 275.8 L181.8 275.9 L183.2 275.9 L184.6 275.9 L186.0 275.9 L187.3 275.9 L188.7 275.9 L190.1 275.9 L191.5 275.9 L192.9 275.9 L194.2 275.9 L195.6 275.9 L197.0 275.9 L198.4 276.0 L199.8 276.0 L201.2 276.0 L202.5 276.0 L203.9 276.0 L205.3 276.0 L206.7 276.0 L208.1 276.0 L209.5 276.0 L210.8 276.0 L212.2 276.0 L213.6 276.0 L215.0 276.0 L216.4 276.0 L217.7 276.0 L219.1 276.0 L220.5 276.0 L221.9 276.0 L223.3 276.0 L224.7 276.0 L226.0 276.0 L227.4 276.0 L228.8 276.0 L230.2 276.0 L231.6 276.0 L232.9 276.0 L234.3 276.0 L235.7 276.0 L237.1 276.0 L238.5 276.0 L239.9 276.0 L241.2 276.0 L242.6 276.0 L244.0 276.0 L245.4 276.0" fill="none" stroke="#606060" stroke-width="0.85"/>
<path d="M113.6 357.4 L113.7 356.7 L113.7 356.0 L113.7 355.4 L113.7 354.7 L113.8 354.0 L113.8 353.3 L113.8 352.7 L113.8 352.0 L113.8 351.3 L113.9 350.6 L113.9 350.0 L113.9 349.3 L114.0 348.6 L114.0 348.0 L114.0 347.3 L114.0 346.6 L114.1 345.9 L114.1 345.3 L114.1 344.6 L114.2 343.9 L114.2 343.2 L114.2 342.6 L114.3 341.9 L114.3 341.2 L114.3 340.5 L114.4 339.9 L114.4 339.2 L114.5 338.5 L114.5 337.9 L114.6 337.2 L114.6 336.5 L114.6 335.8 L114.7 335.2 L114.7 334.5 L114.8 333.8 L114.8 333.1 L114.9 332.5 L115.0 331.8 L115.0 331.1 L115.1 330.4 L115.1 329.8 L115.2 329.1 L115.2 328.4 L115.3 327.8 L115.4 327.1 L115.4 326.4 L115.5 325.7 L115.6 325.1 L115.7 324.4 L115.7 323.7 L115.8 323.0 L115.9 322.4 L116.0 321.7 L116.1 321.0 L116.2 320.3 L116.3 319.7 L116.4 319.0 L116.5 318.3 L116.6 317.7 L116.7 317.0 L116.8 316.3 L116.9 315.6 L117.0 315.0 L117.1 314.3 L117.2 313.6 L117.4 312.9 L117.5 312.3 L117.6 311.6 L117.8 310.9 L117.9 310.2 L118.1 309.6 L118.2 308.9 L118.4 308.2 L118.6 307.6 L118.7 306.9 L118.9 306.2 L119.1 305.5 L119.3 304.9 L119.5 304.2 L119.7 303.5 L119.9 302.8 L120.2 302.2 L120.4 301.5 L120.6 300.8 L120.9 300.1 L121.2 299.5 L121.4 298.8 L121.7 298.1 L122.0 297.5 L122.4 296.8 L122.7 296.1 L123.0 295.4 L123.4 294.8 L123.8 294.1 L124.2 293.4 L124.6 292.7 L125.1 292.1 L125.6 291.4 L126.1 290.7 L126.6 290.0 L127.2 289.4 L127.8 288.7 L128.5 288.0 L129.2 287.4 L129.9 286.7 L130.7 286.0 L131.6 285.3 L132.5 284.7 L133.6 284.0 L134.8 283.3 L136.0 282.6 L137.5 282.0 L139.1 281.3 L141.0 280.6 L143.2 279.9 L145.8 279.3 L149.2 278.6 L153.5 277.9 L159.8 277.3 L161.2 277.1 L162.6 277.0 L164.0 276.9 L165.4 276.9 L166.8 276.8 L168.2 276.7 L169.6 276.7 L171.0 276.6 L172.4 276.5 L173.8 276.5 L175.1 276.4 L176.5 276.4 L177.9 276.4 L179.3 276.3 L180.7 276.3" fill="none" stroke="#606060" stroke-width="0.85"/>
<path d="M25.6 180.1 L27.0 181.3 L28.4 182.4 L29.8 183.5 L31.2 184.6 L32.5 185.7 L33.9 186.8 L35.3 187.8 L36.7 188.9 L38.1 190.0 L39.4 191.0 L40.8 192.1 L42.2 193.1 L43.6 194.1 L45.0 195.2 L46.4 196.2 L47.7 197.2 L49.1 198.2 L50.5 199.1 L51.9 200.1 L53.3 201.1 L54.6 202.0 L56.0 202.9 L57.4 203.9 L58.8 204.8 L60.2 205.6 L61.6 206.5 L62.9 207.4 L64.3 208.2 L65.7 209.0 L67.1 209.8 L68.5 210.6 L69.9 211.4 L71.2 212.1 L72.6 212.9 L74.0 213.6 L75.4 214.3 L76.8 215.0 L78.1 215.6 L79.5 216.2 L80.9 216.9 L82.3 217.4 L83.7 218.0 L85.1 218.6 L86.4 219.1 L87.8 219.6 L89.2 220.1 L90.6 220.5 L92.0 221.0 L93.3 221.4 L94.7 221.8 L96.1 222.1 L97.5 222.5 L98.9 222.8 L100.3 223.1 L101.6 223.4 L103.0 223.7 L104.4 224.0 L105.8 224.2 L107.2 224.5 L108.6 224.7 L109.9 224.9 L111.3 225.1 L112.7 225.2 L114.1 225.4 L115.5 225.6 L116.8 225.7 L118.2 225.8 L119.6 225.9 L121.0 226.1 L122.4 226.2 L123.8 226.2 L125.1 226.3 L126.5 226.4 L127.9 226.5 L129.3 226.6 L130.7 226.6 L132.1 226.7 L133.4 226.7 L134.8 226.8 L136.2 226.8 L137.6 226.9 L139.0 226.9 L140.3 226.9 L141.7 227.0 L143.1 227.0 L144.5 227.0 L145.9 227.0 L147.3 227.1 L148.6 227.1 L150.0 227.1 L151.4 227.1 L152.8 227.1 L154.2 227.1 L155.5 227.2 L156.9 227.2 L158.3 227.2 L159.7 227.2 L161.1 227.2 L162.5 227.2 L163.8 227.2 L165.2 227.2 L166.6 227.2 L168.0 227.2 L169.4 227.2 L170.8 227.2 L172.1 227.2 L173.5 227.2 L174.9 227.3 L176.3 227.3 L177.7 227.3 L179.0 227.3 L180.4 227.3 L181.8 227.3 L183.2 227.3 L184.6 227.3 L186.0 227.3 L187.3 227.3 L188.7 227.3 L190.1 227.3 L191.5 227.3 L192.9 227.3 L194.2 227.3 L195.6 227.3 L197.0 227.3 L198.4 227.3 L199.8 227.3 L201.2 227.3 L202.5 227.3 L203.9 227.3 L205.3 227.3 L206.7 227.3 L208.1 227.3 L209.5 227.3 L210.8 227.3 L212.2 227.3 L213.6 227.3 L215.0 227.3 L216.4 227.3 L217.7 227.3 L219.1 227.3 L220.5 227.3 L221.9 227.3 L223.3 227.3 L224.7 227.3 L226.0 227.3 L227.4 227.3 L228.8 227.3 L230.2 227.3 L231.6 227.3 L232.9 227.3 L234.3 227.3 L235.7 227.3 L237.1 227.3 L238.5 227.3 L239.9 227.3 L241.2 227.3 L242.6 227.3 L244.0 227.3 L245.4 227.3" fill="none" stroke="#606060" stroke-width="0.85" stroke-dasharray="4.1 2.7"/>
</g>
<rect x="247.4" y="213.4" width="10.2" height="125.2" fill="url(#cb)"/>
<path d="M247.4 238.44h4.5M257.6 238.44h-4.5M247.4 230.90h2.6M257.6 230.90h-2.6M247.4 220.94h2.6M257.6 220.94h-2.6M247.4 215.83h2.6M257.6 215.83h-2.6M247.4 263.48h4.5M257.6 263.48h-4.5M247.4 255.94h2.6M257.6 255.94h-2.6M247.4 245.98h2.6M257.6 245.98h-2.6M247.4 240.87h2.6M257.6 240.87h-2.6M247.4 288.52h4.5M257.6 288.52h-4.5M247.4 280.98h2.6M257.6 280.98h-2.6M247.4 271.02h2.6M257.6 271.02h-2.6M247.4 265.91h2.6M257.6 265.91h-2.6M247.4 313.56h4.5M257.6 313.56h-4.5M247.4 306.02h2.6M257.6 306.02h-2.6M247.4 296.06h2.6M257.6 296.06h-2.6M247.4 290.95h2.6M257.6 290.95h-2.6M247.4 331.06h2.6M257.6 331.06h-2.6M247.4 321.10h2.6M257.6 321.10h-2.6M247.4 315.99h2.6M257.6 315.99h-2.6" stroke="#000" stroke-width="0.85" fill="none"/>
<rect x="247.4" y="213.4" width="10.2" height="125.2" fill="none" stroke="#111" stroke-width="1.25"/>
<rect x="32.6" y="213.4" width="209.3" height="125.2" fill="none" stroke="#111" stroke-width="1.25"/>
<g font-family="'Liberation Serif','DejaVu Serif',serif" fill="#1a1a1a">
<text transform="translate(25.50 356.80) scale(1.43 1)" font-size="11">−</text>
<text x="34.2" y="356.8" font-size="11">2</text>
<text x="102.4" y="356.8" font-size="11" text-anchor="middle">0</text>
<text x="172.1" y="356.8" font-size="11" text-anchor="middle">2</text>
<text x="241.9" y="356.8" font-size="11" text-anchor="middle">4</text>
<text x="23.3" y="341.6" font-size="11" text-anchor="end">1</text>
<text transform="translate(8.75 341.60) scale(1.43 1)" font-size="11">−</text>
<text x="23.3" y="279.0" font-size="11" text-anchor="end">0</text>
<text x="23.3" y="216.4" font-size="11" text-anchor="end">1</text>
<text x="266.8" y="216.4" font-size="11">10</text>
<text transform="translate(278.80 212.80) scale(1.65 1)" font-size="7.6">−</text>
<text x="286.3" y="212.8" font-size="7.6">2</text>
<text x="266.8" y="241.4" font-size="11">10</text>
<text transform="translate(278.80 237.84) scale(1.65 1)" font-size="7.6">−</text>
<text x="286.3" y="237.8" font-size="7.6">3</text>
<text x="266.8" y="266.5" font-size="11">10</text>
<text transform="translate(278.80 262.88) scale(1.65 1)" font-size="7.6">−</text>
<text x="286.3" y="262.9" font-size="7.6">4</text>
<text x="266.8" y="291.5" font-size="11">10</text>
<text transform="translate(278.80 287.92) scale(1.65 1)" font-size="7.6">−</text>
<text x="286.3" y="287.9" font-size="7.6">5</text>
<text x="266.8" y="316.6" font-size="11">10</text>
<text transform="translate(278.80 312.96) scale(1.65 1)" font-size="7.6">−</text>
<text x="286.3" y="313.0" font-size="7.6">6</text>
<text x="266.8" y="341.6" font-size="11">10</text>
<text transform="translate(278.80 338.00) scale(1.65 1)" font-size="7.6">−</text>
<text x="286.3" y="338.0" font-size="7.6">7</text>
<text x="122.7" y="371.1" font-size="11.2">log</text>
<text x="139.4" y="371.1" font-size="12" font-style="italic">β</text>
<text transform="translate(145.90 375.60) scale(1.9 1)" font-size="10.8">‖</text>
<text transform="translate(8.8 276.6) rotate(-90)" font-size="11.4" text-anchor="middle" word-spacing="0.8">log <tspan font-style="italic">A</tspan></text>
<text x="76.1" y="201.3" font-size="11.6" font-weight="bold">A<tspan dx="1.4">4:</tspan></text>
<text x="101.4" y="201.3" font-size="11.2" font-style="italic">β</text>
<text x="108.0" y="203.2" font-size="7.6">0</text>
<text transform="translate(117.0 201.3) scale(1.3 1)" font-size="10.9">=</text>
<text x="129.1" y="201.3" font-size="10.9">200,</text>
<text transform="translate(154.9 201.3) scale(1.4 1)" font-size="10.9" font-style="italic">ν</text>
<text x="162.7" y="203.3" font-size="8.6" font-style="italic">S</text>
<text transform="translate(172.9 201.3) scale(1.3 1)" font-size="10.9">=</text>
<text x="183.7" y="201.3" font-size="10.9">10</text>
<text x="194.3" y="196.9" font-size="7.6">2</text>
</g>
<g clip-path="url(#cp3)">
<clipPath id="a5c"><rect x="430" y="276.2" width="130" height="70"/></clipPath>
<g clip-path="url(#a5c)">
<path d="M438.0 270.0 L550.0 270.0 L549.0 283.0 L537.0 291.0 L513.0 293.5 L492.0 289.5 L472.0 284.0 L455.0 282.0 L438.0 286.0Z" fill="#fcd9a0" filter="url(#b25)"/>
<path d="M438.0 270.0 L524.0 270.0 L521.0 282.0 L500.0 285.5 L475.0 282.0 L455.0 280.5 L438.0 283.0Z" fill="#fdae30" filter="url(#b25)"/>
<path d="M438.0 270.0 L492.0 270.0 L490.0 279.0 L465.0 280.0 L438.0 281.0Z" fill="#fc9220" filter="url(#b2)" opacity="0.80"/>
</g>
<path d="M400.0 257.2 L403.1 258.7 L406.2 260.2 L409.2 261.6 L412.3 262.9 L415.4 264.0 L418.5 265.1 L421.5 266.0 L424.6 266.9 L427.7 267.7 L430.8 268.5 L433.8 269.1 L436.9 269.7 L440.0 270.2 L443.1 270.6 L446.2 270.9 L449.2 271.1 L452.3 271.5 L455.4 271.9 L458.5 272.2 L461.5 272.5 L464.6 272.8 L467.7 273.0 L470.8 273.2 L473.8 273.4 L476.9 273.6 L480.0 273.8 L483.1 274.0 L486.2 274.2 L489.2 274.4 L492.3 274.6 L495.4 274.7 L498.5 274.9 L501.5 275.1 L504.6 275.3 L507.7 275.4 L510.8 275.6 L513.8 275.8 L516.9 275.9 L520.0 276.0 L520.0 276.6 L516.9 276.6 L513.8 276.6 L510.8 276.6 L507.7 276.6 L504.6 276.5 L501.5 276.5 L498.5 276.5 L495.4 276.5 L492.3 276.5 L489.2 276.5 L486.2 276.4 L483.1 276.4 L480.0 276.3 L476.9 276.3 L473.8 276.2 L470.8 276.1 L467.7 276.0 L464.6 275.9 L461.5 275.7 L458.5 275.5 L455.4 275.3 L452.3 275.0 L449.2 274.7 L446.2 274.3 L443.1 273.9 L440.0 273.4 L436.9 272.8 L433.8 272.1 L430.8 271.3 L427.7 270.4 L424.6 269.4 L421.5 268.3 L418.5 267.1 L415.4 265.8 L412.3 264.4 L409.2 262.9 L406.2 261.3 L403.1 259.6 L400.0 257.8Z" fill="#fdae30" filter="url(#b05)"/>
<path d="M400.0 257.2 L403.1 258.8 L406.2 260.4 L409.2 261.9 L412.3 263.3 L415.4 264.5 L418.5 265.7 L421.5 266.8 L424.6 267.7 L427.7 268.6 L430.8 269.4 L433.8 270.2 L436.9 270.8 L440.0 271.3 L443.1 271.7 L446.2 272.1 L449.2 272.4 L452.3 272.8 L455.4 273.1 L458.5 273.4 L461.5 273.6 L464.6 273.9 L467.7 274.0 L470.8 274.2 L473.8 274.4 L476.9 274.5 L480.0 274.6 L483.1 274.8 L486.2 274.9 L489.2 275.0 L492.3 275.1 L495.4 275.2 L498.5 275.3 L501.5 275.5 L504.6 275.6 L507.7 275.7 L510.8 275.8 L513.8 275.8 L516.9 275.9 L520.0 276.0 L520.0 276.6 L516.9 276.6 L513.8 276.6 L510.8 276.6 L507.7 276.6 L504.6 276.5 L501.5 276.5 L498.5 276.5 L495.4 276.5 L492.3 276.5 L489.2 276.5 L486.2 276.4 L483.1 276.4 L480.0 276.3 L476.9 276.3 L473.8 276.2 L470.8 276.1 L467.7 276.0 L464.6 275.9 L461.5 275.7 L458.5 275.5 L455.4 275.3 L452.3 275.0 L449.2 274.7 L446.2 274.3 L443.1 273.9 L440.0 273.4 L436.9 272.8 L433.8 272.1 L430.8 271.3 L427.7 270.4 L424.6 269.4 L421.5 268.3 L418.5 267.1 L415.4 265.8 L412.3 264.4 L409.2 262.9 L406.2 261.3 L403.1 259.6 L400.0 257.8Z" fill="#fc7e14" filter="url(#b05)"/>
<g clip-path="url(#a5reg)"><rect x="340.6" y="213.4" width="159.4" height="125.2" fill="url(#a5g)" filter="url(#b05)"/></g>
<path d="M333.6 206.1 L335.0 207.3 L336.4 208.4 L337.8 209.6 L339.1 210.8 L340.5 212.0 L341.9 213.2 L343.3 214.3 L344.7 215.5 L346.1 216.7 L347.5 217.8 L348.8 219.0 L350.2 220.2 L351.6 221.3 L353.0 222.5 L354.4 223.6 L355.8 224.7 L357.1 225.9 L358.5 227.0 L359.9 228.1 L361.3 229.3 L362.7 230.4 L364.1 231.5 L365.4 232.6 L366.8 233.7 L368.2 234.8 L369.6 235.9 L371.0 236.9 L372.4 238.0 L373.8 239.1 L375.1 240.1 L376.5 241.2 L377.9 242.2 L379.3 243.2 L380.7 244.2 L382.1 245.3 L383.4 246.2 L384.8 247.2 L386.2 248.2 L387.6 249.2 L389.0 250.1 L390.4 251.1 L391.7 252.0 L393.1 252.9 L394.5 253.8 L395.9 254.7 L397.3 255.5 L398.7 256.4 L400.1 257.2 L401.4 258.0 L402.8 258.8 L404.2 259.6 L405.6 260.4 L407.0 261.1 L408.4 261.8 L409.7 262.6 L411.1 263.2 L412.5 263.9 L413.9 264.6 L415.3 265.2 L416.7 265.8 L418.0 266.4 L419.4 266.9 L420.8 267.5 L422.2 268.0 L423.6 268.5 L425.0 268.9 L426.4 269.4 L427.7 269.8 L429.1 270.2 L430.5 270.6 L431.9 271.0 L433.3 271.3 L434.7 271.7 L436.0 272.0 L437.4 272.3 L438.8 272.5 L440.2 272.8 L441.6 273.0 L443.0 273.3 L444.3 273.5 L445.7 273.7 L447.1 273.8 L448.5 274.0 L449.9 274.2 L451.3 274.3 L452.7 274.5 L454.0 274.6 L455.4 274.7 L456.8 274.8 L458.2 274.9 L459.6 275.0 L461.0 275.1 L462.3 275.2 L463.7 275.2 L465.1 275.3 L466.5 275.3 L467.9 275.4 L469.3 275.5 L470.6 275.5 L472.0 275.5 L473.4 275.6 L474.8 275.6 L476.2 275.6 L477.6 275.7 L478.9 275.7 L480.3 275.7 L481.7 275.8 L483.1 275.8 L484.5 275.8 L485.9 275.8 L487.3 275.8 L488.6 275.8 L490.0 275.9 L491.4 275.9 L492.8 275.9 L494.2 275.9 L495.6 275.9 L496.9 275.9 L498.3 275.9 L499.7 275.9 L501.1 275.9 L502.5 275.9 L503.9 275.9 L505.2 275.9 L506.6 276.0 L508.0 276.0 L509.4 276.0 L510.8 276.0 L512.2 276.0 L513.6 276.0 L514.9 276.0 L516.3 276.0 L517.7 276.0 L519.1 276.0 L520.5 276.0 L521.9 276.0 L523.2 276.0 L524.6 276.0 L526.0 276.0 L527.4 276.0 L528.8 276.0 L530.2 276.0 L531.5 276.0 L532.9 276.0 L534.3 276.0 L535.7 276.0 L537.1 276.0 L538.5 276.0 L539.9 276.0 L541.2 276.0 L542.6 276.0 L544.0 276.0 L545.4 276.0 L546.8 276.0 L548.2 276.0 L549.5 276.0 L550.9 276.0 L552.3 276.0 L553.7 276.0" fill="none" stroke="#606060" stroke-width="0.85"/>
<path d="M421.8 357.4 L421.8 356.7 L421.8 356.0 L421.8 355.4 L421.8 354.7 L421.9 354.0 L421.9 353.3 L421.9 352.7 L421.9 352.0 L422.0 351.3 L422.0 350.6 L422.0 350.0 L422.0 349.3 L422.1 348.6 L422.1 348.0 L422.1 347.3 L422.2 346.6 L422.2 345.9 L422.2 345.3 L422.3 344.6 L422.3 343.9 L422.3 343.2 L422.4 342.6 L422.4 341.9 L422.4 341.2 L422.5 340.5 L422.5 339.9 L422.5 339.2 L422.6 338.5 L422.6 337.9 L422.7 337.2 L422.7 336.5 L422.8 335.8 L422.8 335.2 L422.9 334.5 L422.9 333.8 L423.0 333.1 L423.0 332.5 L423.1 331.8 L423.1 331.1 L423.2 330.4 L423.2 329.8 L423.3 329.1 L423.4 328.4 L423.4 327.8 L423.5 327.1 L423.6 326.4 L423.6 325.7 L423.7 325.1 L423.8 324.4 L423.9 323.7 L423.9 323.0 L424.0 322.4 L424.1 321.7 L424.2 321.0 L424.3 320.3 L424.4 319.7 L424.5 319.0 L424.6 318.3 L424.7 317.7 L424.8 317.0 L424.9 316.3 L425.0 315.6 L425.1 315.0 L425.2 314.3 L425.4 313.6 L425.5 312.9 L425.6 312.3 L425.8 311.6 L425.9 310.9 L426.0 310.2 L426.2 309.6 L426.4 308.9 L426.5 308.2 L426.7 307.6 L426.9 306.9 L427.0 306.2 L427.2 305.5 L427.4 304.9 L427.6 304.2 L427.8 303.5 L428.1 302.8 L428.3 302.2 L428.5 301.5 L428.8 300.8 L429.0 300.1 L429.3 299.5 L429.6 298.8 L429.9 298.1 L430.2 297.5 L430.5 296.8 L430.8 296.1 L431.2 295.4 L431.5 294.8 L431.9 294.1 L432.3 293.4 L432.8 292.7 L433.2 292.1 L433.7 291.4 L434.2 290.7 L434.8 290.0 L435.3 289.4 L435.9 288.7 L436.6 288.0 L437.3 287.4 L438.0 286.7 L438.9 286.0 L439.7 285.3 L440.7 284.7 L441.7 284.0 L442.9 283.3 L444.2 282.6 L445.6 282.0 L447.3 281.3 L449.1 280.6 L451.4 279.9 L454.0 279.3 L457.3 278.6 L461.7 277.9 L468.0 277.3 L469.4 277.1 L470.8 277.0 L472.2 276.9 L473.6 276.9 L475.0 276.8 L476.4 276.7 L477.8 276.7 L479.2 276.6 L480.6 276.5 L482.0 276.5 L483.3 276.4 L484.7 276.4 L486.1 276.4 L487.5 276.3 L488.9 276.3" fill="none" stroke="#606060" stroke-width="0.85"/>
<path d="M333.6 180.1 L335.0 181.3 L336.4 182.4 L337.8 183.5 L339.1 184.6 L340.5 185.7 L341.9 186.8 L343.3 187.8 L344.7 188.9 L346.1 190.0 L347.5 191.0 L348.8 192.1 L350.2 193.1 L351.6 194.1 L353.0 195.2 L354.4 196.2 L355.8 197.2 L357.1 198.2 L358.5 199.1 L359.9 200.1 L361.3 201.1 L362.7 202.0 L364.1 202.9 L365.4 203.9 L366.8 204.8 L368.2 205.6 L369.6 206.5 L371.0 207.4 L372.4 208.2 L373.8 209.0 L375.1 209.8 L376.5 210.6 L377.9 211.4 L379.3 212.1 L380.7 212.9 L382.1 213.6 L383.4 214.3 L384.8 215.0 L386.2 215.6 L387.6 216.2 L389.0 216.9 L390.4 217.4 L391.7 218.0 L393.1 218.6 L394.5 219.1 L395.9 219.6 L397.3 220.1 L398.7 220.5 L400.1 221.0 L401.4 221.4 L402.8 221.8 L404.2 222.1 L405.6 222.5 L407.0 222.8 L408.4 223.1 L409.7 223.4 L411.1 223.7 L412.5 224.0 L413.9 224.2 L415.3 224.5 L416.7 224.7 L418.0 224.9 L419.4 225.1 L420.8 225.2 L422.2 225.4 L423.6 225.6 L425.0 225.7 L426.4 225.8 L427.7 225.9 L429.1 226.1 L430.5 226.2 L431.9 226.2 L433.3 226.3 L434.7 226.4 L436.0 226.5 L437.4 226.6 L438.8 226.6 L440.2 226.7 L441.6 226.7 L443.0 226.8 L444.3 226.8 L445.7 226.9 L447.1 226.9 L448.5 226.9 L449.9 227.0 L451.3 227.0 L452.7 227.0 L454.0 227.0 L455.4 227.1 L456.8 227.1 L458.2 227.1 L459.6 227.1 L461.0 227.1 L462.3 227.1 L463.7 227.2 L465.1 227.2 L466.5 227.2 L467.9 227.2 L469.3 227.2 L470.6 227.2 L472.0 227.2 L473.4 227.2 L474.8 227.2 L476.2 227.2 L477.6 227.2 L478.9 227.2 L480.3 227.2 L481.7 227.2 L483.1 227.3 L484.5 227.3 L485.9 227.3 L487.3 227.3 L488.6 227.3 L490.0 227.3 L491.4 227.3 L492.8 227.3 L494.2 227.3 L495.6 227.3 L496.9 227.3 L498.3 227.3 L499.7 227.3 L501.1 227.3 L502.5 227.3 L503.9 227.3 L505.2 227.3 L506.6 227.3 L508.0 227.3 L509.4 227.3 L510.8 227.3 L512.2 227.3 L513.6 227.3 L514.9 227.3 L516.3 227.3 L517.7 227.3 L519.1 227.3 L520.5 227.3 L521.9 227.3 L523.2 227.3 L524.6 227.3 L526.0 227.3 L527.4 227.3 L528.8 227.3 L530.2 227.3 L531.5 227.3 L532.9 227.3 L534.3 227.3 L535.7 227.3 L537.1 227.3 L538.5 227.3 L539.9 227.3 L541.2 227.3 L542.6 227.3 L544.0 227.3 L545.4 227.3 L546.8 227.3 L548.2 227.3 L549.5 227.3 L550.9 227.3 L552.3 227.3 L553.7 227.3" fill="none" stroke="#606060" stroke-width="0.85" stroke-dasharray="4.1 2.7"/>
</g>
<rect x="555.5" y="213.4" width="9.9" height="125.2" fill="url(#cb)"/>
<path d="M555.5 238.44h4.5M565.4 238.44h-4.5M555.5 230.90h2.6M565.4 230.90h-2.6M555.5 220.94h2.6M565.4 220.94h-2.6M555.5 215.83h2.6M565.4 215.83h-2.6M555.5 263.48h4.5M565.4 263.48h-4.5M555.5 255.94h2.6M565.4 255.94h-2.6M555.5 245.98h2.6M565.4 245.98h-2.6M555.5 240.87h2.6M565.4 240.87h-2.6M555.5 288.52h4.5M565.4 288.52h-4.5M555.5 280.98h2.6M565.4 280.98h-2.6M555.5 271.02h2.6M565.4 271.02h-2.6M555.5 265.91h2.6M565.4 265.91h-2.6M555.5 313.56h4.5M565.4 313.56h-4.5M555.5 306.02h2.6M565.4 306.02h-2.6M555.5 296.06h2.6M565.4 296.06h-2.6M555.5 290.95h2.6M565.4 290.95h-2.6M555.5 331.06h2.6M565.4 331.06h-2.6M555.5 321.10h2.6M565.4 321.10h-2.6M555.5 315.99h2.6M565.4 315.99h-2.6" stroke="#000" stroke-width="0.85" fill="none"/>
<rect x="555.5" y="213.4" width="9.9" height="125.2" fill="none" stroke="#111" stroke-width="1.25"/>
<rect x="340.6" y="213.4" width="209.6" height="125.2" fill="none" stroke="#111" stroke-width="1.25"/>
<g font-family="'Liberation Serif','DejaVu Serif',serif" fill="#1a1a1a">
<text transform="translate(333.50 356.80) scale(1.43 1)" font-size="11">−</text>
<text x="342.2" y="356.8" font-size="11">2</text>
<text x="410.5" y="356.8" font-size="11" text-anchor="middle">0</text>
<text x="480.3" y="356.8" font-size="11" text-anchor="middle">2</text>
<text x="550.2" y="356.8" font-size="11" text-anchor="middle">4</text>
<text x="331.3" y="341.6" font-size="11" text-anchor="end">1</text>
<text transform="translate(316.75 341.60) scale(1.43 1)" font-size="11">−</text>
<text x="331.3" y="279.0" font-size="11" text-anchor="end">0</text>
<text x="331.3" y="216.4" font-size="11" text-anchor="end">1</text>
<text x="574.6" y="216.4" font-size="11">10</text>
<text transform="translate(586.60 212.80) scale(1.65 1)" font-size="7.6">−</text>
<text x="594.1" y="212.8" font-size="7.6">2</text>
<text x="574.6" y="241.4" font-size="11">10</text>
<text transform="translate(586.60 237.84) scale(1.65 1)" font-size="7.6">−</text>
<text x="594.1" y="237.8" font-size="7.6">3</text>
<text x="574.6" y="266.5" font-size="11">10</text>
<text transform="translate(586.60 262.88) scale(1.65 1)" font-size="7.6">−</text>
<text x="594.1" y="262.9" font-size="7.6">4</text>
<text x="574.6" y="291.5" font-size="11">10</text>
<text transform="translate(586.60 287.92) scale(1.65 1)" font-size="7.6">−</text>
<text x="594.1" y="287.9" font-size="7.6">5</text>
<text x="574.6" y="316.6" font-size="11">10</text>
<text transform="translate(586.60 312.96) scale(1.65 1)" font-size="7.6">−</text>
<text x="594.1" y="313.0" font-size="7.6">6</text>
<text x="574.6" y="341.6" font-size="11">10</text>
<text transform="translate(586.60 338.00) scale(1.65 1)" font-size="7.6">−</text>
<text x="594.1" y="338.0" font-size="7.6">7</text>
<text x="430.8" y="371.1" font-size="11.2">log</text>
<text x="447.6" y="371.1" font-size="12" font-style="italic">β</text>
<text transform="translate(454.05 375.60) scale(1.9 1)" font-size="10.8">‖</text>
<text transform="translate(316.8 276.6) rotate(-90)" font-size="11.4" text-anchor="middle" word-spacing="0.8">log <tspan font-style="italic">A</tspan></text>
<text x="384.3" y="201.3" font-size="11.6" font-weight="bold">A<tspan dx="1.4">5:</tspan></text>
<text x="409.6" y="201.3" font-size="11.2" font-style="italic">β</text>
<text x="416.2" y="203.2" font-size="7.6">0</text>
<text transform="translate(425.2 201.3) scale(1.3 1)" font-size="10.9">=</text>
<text x="437.3" y="201.3" font-size="10.9">200,</text>
<text transform="translate(463.1 201.3) scale(1.4 1)" font-size="10.9" font-style="italic">ν</text>
<text x="470.9" y="203.3" font-size="8.6" font-style="italic">S</text>
<text transform="translate(481.1 201.3) scale(1.3 1)" font-size="10.9">=</text>
<text x="491.9" y="201.3" font-size="10.9">10</text>
<text x="502.5" y="196.9" font-size="7.6">3</text>
</g>
<g clip-path="url(#cp4)">
<g clip-path="url(#a1reg)"><rect x="32.6" y="403.1" width="149.4" height="125.1" fill="url(#a1g)"/></g>
<path d="M25.6 395.8 L27.0 397.0 L28.4 398.1 L29.8 399.3 L31.2 400.5 L32.5 401.7 L33.9 402.9 L35.3 404.0 L36.7 405.2 L38.1 406.4 L39.4 407.5 L40.8 408.7 L42.2 409.9 L43.6 411.0 L45.0 412.2 L46.4 413.3 L47.7 414.4 L49.1 415.6 L50.5 416.7 L51.9 417.8 L53.3 418.9 L54.6 420.1 L56.0 421.2 L57.4 422.3 L58.8 423.4 L60.2 424.5 L61.6 425.5 L62.9 426.6 L64.3 427.7 L65.7 428.7 L67.1 429.8 L68.5 430.8 L69.9 431.9 L71.2 432.9 L72.6 433.9 L74.0 434.9 L75.4 435.9 L76.8 436.9 L78.1 437.9 L79.5 438.8 L80.9 439.8 L82.3 440.7 L83.7 441.6 L85.1 442.6 L86.4 443.5 L87.8 444.3 L89.2 445.2 L90.6 446.0 L92.0 446.9 L93.3 447.7 L94.7 448.5 L96.1 449.3 L97.5 450.0 L98.9 450.8 L100.3 451.5 L101.6 452.2 L103.0 452.9 L104.4 453.6 L105.8 454.2 L107.2 454.8 L108.6 455.4 L109.9 456.0 L111.3 456.6 L112.7 457.1 L114.1 457.6 L115.5 458.1 L116.8 458.6 L118.2 459.0 L119.6 459.5 L121.0 459.9 L122.4 460.3 L123.8 460.6 L125.1 461.0 L126.5 461.3 L127.9 461.6 L129.3 461.9 L130.7 462.2 L132.1 462.4 L133.4 462.7 L134.8 462.9 L136.2 463.1 L137.6 463.3 L139.0 463.5 L140.3 463.7 L141.7 463.8 L143.1 464.0 L144.5 464.1 L145.9 464.2 L147.3 464.3 L148.6 464.5 L150.0 464.5 L151.4 464.6 L152.8 464.7 L154.2 464.8 L155.5 464.9 L156.9 464.9 L158.3 465.0 L159.7 465.1 L161.1 465.1 L162.5 465.1 L163.8 465.2 L165.2 465.2 L166.6 465.3 L168.0 465.3 L169.4 465.3 L170.8 465.4 L172.1 465.4 L173.5 465.4 L174.9 465.4 L176.3 465.4 L177.7 465.5 L179.0 465.5 L180.4 465.5 L181.8 465.5 L183.2 465.5 L184.6 465.5 L186.0 465.5 L187.3 465.6 L188.7 465.6 L190.1 465.6 L191.5 465.6 L192.9 465.6 L194.2 465.6 L195.6 465.6 L197.0 465.6 L198.4 465.6 L199.8 465.6 L201.2 465.6 L202.5 465.6 L203.9 465.6 L205.3 465.6 L206.7 465.6 L208.1 465.6 L209.5 465.6 L210.8 465.6 L212.2 465.6 L213.6 465.6 L215.0 465.6 L216.4 465.6 L217.7 465.6 L219.1 465.6 L220.5 465.6 L221.9 465.6 L223.3 465.6 L224.7 465.6 L226.0 465.6 L227.4 465.6 L228.8 465.6 L230.2 465.6 L231.6 465.6 L232.9 465.6 L234.3 465.6 L235.7 465.6 L237.1 465.6 L238.5 465.6 L239.9 465.6 L241.2 465.6 L242.6 465.6 L244.0 465.6 L245.4 465.6" fill="none" stroke="#606060" stroke-width="0.85"/>
<path d="M113.6 547.0 L113.7 546.3 L113.7 545.6 L113.7 544.9 L113.7 544.3 L113.8 543.6 L113.8 542.9 L113.8 542.3 L113.8 541.6 L113.8 540.9 L113.9 540.2 L113.9 539.6 L113.9 538.9 L114.0 538.2 L114.0 537.5 L114.0 536.9 L114.0 536.2 L114.1 535.5 L114.1 534.9 L114.1 534.2 L114.2 533.5 L114.2 532.8 L114.2 532.2 L114.3 531.5 L114.3 530.8 L114.3 530.1 L114.4 529.5 L114.4 528.8 L114.5 528.1 L114.5 527.5 L114.6 526.8 L114.6 526.1 L114.6 525.4 L114.7 524.8 L114.7 524.1 L114.8 523.4 L114.8 522.7 L114.9 522.1 L115.0 521.4 L115.0 520.7 L115.1 520.1 L115.1 519.4 L115.2 518.7 L115.2 518.0 L115.3 517.4 L115.4 516.7 L115.4 516.0 L115.5 515.3 L115.6 514.7 L115.7 514.0 L115.7 513.3 L115.8 512.7 L115.9 512.0 L116.0 511.3 L116.1 510.6 L116.2 510.0 L116.3 509.3 L116.4 508.6 L116.5 507.9 L116.6 507.3 L116.7 506.6 L116.8 505.9 L116.9 505.3 L117.0 504.6 L117.1 503.9 L117.2 503.2 L117.4 502.6 L117.5 501.9 L117.6 501.2 L117.8 500.5 L117.9 499.9 L118.1 499.2 L118.2 498.5 L118.4 497.9 L118.6 497.2 L118.7 496.5 L118.9 495.8 L119.1 495.2 L119.3 494.5 L119.5 493.8 L119.7 493.1 L119.9 492.5 L120.2 491.8 L120.4 491.1 L120.6 490.4 L120.9 489.8 L121.2 489.1 L121.4 488.4 L121.7 487.8 L122.0 487.1 L122.4 486.4 L122.7 485.7 L123.0 485.1 L123.4 484.4 L123.8 483.7 L124.2 483.0 L124.6 482.4 L125.1 481.7 L125.6 481.0 L126.1 480.4 L126.6 479.7 L127.2 479.0 L127.8 478.3 L128.5 477.7 L129.2 477.0 L129.9 476.3 L130.7 475.6 L131.6 475.0 L132.5 474.3 L133.6 473.6 L134.8 473.0 L136.0 472.3 L137.5 471.6 L139.1 470.9 L141.0 470.3 L143.2 469.6 L145.8 468.9 L149.2 468.2 L153.5 467.6 L159.8 466.9 L161.2 466.8 L162.6 466.7 L164.0 466.6 L165.4 466.5 L166.8 466.4 L168.2 466.4 L169.6 466.3 L171.0 466.2 L172.4 466.2 L173.8 466.1 L175.1 466.1 L176.5 466.1 L177.9 466.0 L179.3 466.0 L180.7 466.0" fill="none" stroke="#606060" stroke-width="0.85"/>
<path d="M25.6 369.9 L27.0 371.0 L28.4 372.1 L29.8 373.2 L31.2 374.3 L32.5 375.4 L33.9 376.5 L35.3 377.6 L36.7 378.6 L38.1 379.7 L39.4 380.7 L40.8 381.8 L42.2 382.8 L43.6 383.9 L45.0 384.9 L46.4 385.9 L47.7 386.9 L49.1 387.9 L50.5 388.9 L51.9 389.8 L53.3 390.8 L54.6 391.7 L56.0 392.6 L57.4 393.6 L58.8 394.5 L60.2 395.3 L61.6 396.2 L62.9 397.1 L64.3 397.9 L65.7 398.7 L67.1 399.5 L68.5 400.3 L69.9 401.1 L71.2 401.8 L72.6 402.6 L74.0 403.3 L75.4 404.0 L76.8 404.7 L78.1 405.3 L79.5 405.9 L80.9 406.5 L82.3 407.1 L83.7 407.7 L85.1 408.2 L86.4 408.8 L87.8 409.3 L89.2 409.8 L90.6 410.2 L92.0 410.6 L93.3 411.1 L94.7 411.5 L96.1 411.8 L97.5 412.2 L98.9 412.5 L100.3 412.8 L101.6 413.1 L103.0 413.4 L104.4 413.7 L105.8 413.9 L107.2 414.2 L108.6 414.4 L109.9 414.6 L111.3 414.8 L112.7 414.9 L114.1 415.1 L115.5 415.2 L116.8 415.4 L118.2 415.5 L119.6 415.6 L121.0 415.7 L122.4 415.8 L123.8 415.9 L125.1 416.0 L126.5 416.1 L127.9 416.2 L129.3 416.2 L130.7 416.3 L132.1 416.4 L133.4 416.4 L134.8 416.5 L136.2 416.5 L137.6 416.5 L139.0 416.6 L140.3 416.6 L141.7 416.6 L143.1 416.7 L144.5 416.7 L145.9 416.7 L147.3 416.7 L148.6 416.8 L150.0 416.8 L151.4 416.8 L152.8 416.8 L154.2 416.8 L155.5 416.8 L156.9 416.9 L158.3 416.9 L159.7 416.9 L161.1 416.9 L162.5 416.9 L163.8 416.9 L165.2 416.9 L166.6 416.9 L168.0 416.9 L169.4 416.9 L170.8 416.9 L172.1 416.9 L173.5 416.9 L174.9 416.9 L176.3 416.9 L177.7 416.9 L179.0 416.9 L180.4 417.0 L181.8 417.0 L183.2 417.0 L184.6 417.0 L186.0 417.0 L187.3 417.0 L188.7 417.0 L190.1 417.0 L191.5 417.0 L192.9 417.0 L194.2 417.0 L195.6 417.0 L197.0 417.0 L198.4 417.0 L199.8 417.0 L201.2 417.0 L202.5 417.0 L203.9 417.0 L205.3 417.0 L206.7 417.0 L208.1 417.0 L209.5 417.0 L210.8 417.0 L212.2 417.0 L213.6 417.0 L215.0 417.0 L216.4 417.0 L217.7 417.0 L219.1 417.0 L220.5 417.0 L221.9 417.0 L223.3 417.0 L224.7 417.0 L226.0 417.0 L227.4 417.0 L228.8 417.0 L230.2 417.0 L231.6 417.0 L232.9 417.0 L234.3 417.0 L235.7 417.0 L237.1 417.0 L238.5 417.0 L239.9 417.0 L241.2 417.0 L242.6 417.0 L244.0 417.0 L245.4 417.0" fill="none" stroke="#606060" stroke-width="0.85" stroke-dasharray="4.1 2.7"/>
</g>
<rect x="247.4" y="403.1" width="10.2" height="125.1" fill="url(#cb)"/>
<path d="M247.4 428.12h4.5M257.6 428.12h-4.5M247.4 420.59h2.6M257.6 420.59h-2.6M247.4 410.63h2.6M257.6 410.63h-2.6M247.4 405.52h2.6M257.6 405.52h-2.6M247.4 453.14h4.5M257.6 453.14h-4.5M247.4 445.61h2.6M257.6 445.61h-2.6M247.4 435.65h2.6M257.6 435.65h-2.6M247.4 430.54h2.6M257.6 430.54h-2.6M247.4 478.16h4.5M257.6 478.16h-4.5M247.4 470.63h2.6M257.6 470.63h-2.6M247.4 460.67h2.6M257.6 460.67h-2.6M247.4 455.56h2.6M257.6 455.56h-2.6M247.4 503.18h4.5M257.6 503.18h-4.5M247.4 495.65h2.6M257.6 495.65h-2.6M247.4 485.69h2.6M257.6 485.69h-2.6M247.4 480.58h2.6M257.6 480.58h-2.6M247.4 520.67h2.6M257.6 520.67h-2.6M247.4 510.71h2.6M257.6 510.71h-2.6M247.4 505.60h2.6M257.6 505.60h-2.6" stroke="#000" stroke-width="0.85" fill="none"/>
<rect x="247.4" y="403.1" width="10.2" height="125.1" fill="none" stroke="#111" stroke-width="1.25"/>
<rect x="32.6" y="403.1" width="209.3" height="125.1" fill="none" stroke="#111" stroke-width="1.25"/>
<g font-family="'Liberation Serif','DejaVu Serif',serif" fill="#1a1a1a">
<text transform="translate(25.50 546.40) scale(1.43 1)" font-size="11">−</text>
<text x="34.2" y="546.4" font-size="11">2</text>
<text x="102.4" y="546.4" font-size="11" text-anchor="middle">0</text>
<text x="172.1" y="546.4" font-size="11" text-anchor="middle">2</text>
<text x="241.9" y="546.4" font-size="11" text-anchor="middle">4</text>
<text x="23.3" y="531.2" font-size="11" text-anchor="end">1</text>
<text transform="translate(8.75 531.20) scale(1.43 1)" font-size="11">−</text>
<text x="23.3" y="468.7" font-size="11" text-anchor="end">0</text>
<text x="23.3" y="406.1" font-size="11" text-anchor="end">1</text>
<text x="266.8" y="406.1" font-size="11">10</text>
<text transform="translate(278.80 402.50) scale(1.65 1)" font-size="7.6">−</text>
<text x="286.3" y="402.5" font-size="7.6">2</text>
<text x="266.8" y="431.1" font-size="11">10</text>
<text transform="translate(278.80 427.52) scale(1.65 1)" font-size="7.6">−</text>
<text x="286.3" y="427.5" font-size="7.6">3</text>
<text x="266.8" y="456.1" font-size="11">10</text>
<text transform="translate(278.80 452.54) scale(1.65 1)" font-size="7.6">−</text>
<text x="286.3" y="452.5" font-size="7.6">4</text>
<text x="266.8" y="481.2" font-size="11">10</text>
<text transform="translate(278.80 477.56) scale(1.65 1)" font-size="7.6">−</text>
<text x="286.3" y="477.6" font-size="7.6">5</text>
<text x="266.8" y="506.2" font-size="11">10</text>
<text transform="translate(278.80 502.58) scale(1.65 1)" font-size="7.6">−</text>
<text x="286.3" y="502.6" font-size="7.6">6</text>
<text x="266.8" y="531.2" font-size="11">10</text>
<text transform="translate(278.80 527.60) scale(1.65 1)" font-size="7.6">−</text>
<text x="286.3" y="527.6" font-size="7.6">7</text>
<text x="122.7" y="560.7" font-size="11.2">log</text>
<text x="139.4" y="560.7" font-size="12" font-style="italic">β</text>
<text transform="translate(145.90 565.20) scale(1.9 1)" font-size="10.8">‖</text>
<text transform="translate(8.8 466.3) rotate(-90)" font-size="11.4" text-anchor="middle" word-spacing="0.8">log <tspan font-style="italic">A</tspan></text>
<text x="78.1" y="390.1" font-size="11.6" font-weight="bold">A<tspan dx="1.4">1:</tspan></text>
<text x="103.4" y="390.1" font-size="11.2" font-style="italic">β</text>
<text x="110.0" y="392.0" font-size="7.6">0</text>
<text transform="translate(119.0 390.1) scale(1.3 1)" font-size="10.9">=</text>
<text x="131.1" y="390.1" font-size="10.9">200,</text>
<text transform="translate(156.9 390.1) scale(1.4 1)" font-size="10.9" font-style="italic">ν</text>
<text x="164.7" y="392.1" font-size="8.6" font-style="italic">S</text>
<text transform="translate(174.9 390.1) scale(1.3 1)" font-size="10.9">=</text>
<text transform="translate(185.7 390.7) scale(1.35 1.2)" font-size="10.9">∞</text>
</g>
<g clip-path="url(#cp5)">
<path d="M384.7 441.4 L387.8 442.8 L390.9 444.1 L394.0 445.5 L397.1 446.8 L400.2 448.2 L403.3 449.6 L406.3 451.0 L409.4 452.4 L412.5 453.7 L415.6 455.2 L418.7 456.8 L421.8 458.4 L424.9 460.1 L428.0 461.7 L431.1 463.3 L434.2 464.9 L437.3 466.6 L440.4 468.2 L443.5 469.7 L446.5 471.3 L449.6 472.8 L452.7 474.3 L455.8 475.9 L458.9 477.4 L462.0 479.0 L465.1 480.5 L468.2 482.1 L471.3 483.7 L474.4 485.2 L477.5 486.8 L480.6 488.4 L483.7 489.9 L486.7 491.4 L489.8 493.6 L492.9 496.2 L496.0 498.8 L499.1 501.6 L502.2 504.5 L505.3 507.3 L505.3 507.3 L502.2 506.2 L499.1 505.1 L496.0 504.0 L492.9 503.0 L489.8 502.0 L486.7 500.9 L483.7 499.6 L480.6 498.3 L477.5 496.7 L474.4 495.0 L471.3 493.2 L468.2 491.5 L465.1 489.7 L462.0 487.9 L458.9 486.1 L455.8 484.3 L452.7 482.5 L449.6 480.7 L446.5 478.9 L443.5 477.0 L440.4 475.2 L437.3 473.3 L434.2 471.4 L431.1 469.5 L428.0 467.5 L424.9 465.6 L421.8 463.7 L418.7 461.8 L415.6 459.8 L412.5 458.0 L409.4 456.1 L406.3 454.3 L403.3 452.4 L400.2 450.6 L397.1 448.7 L394.0 446.9 L390.9 445.1 L387.8 443.2 L384.7 441.4Z" fill="#fcd9a0" filter="url(#b05)"/>
<path d="M386.0 442.1 L391.1 444.6 L396.3 447.1 L401.4 449.4 L406.5 451.7 L411.7 453.9 L416.8 456.4 L421.9 459.1 L427.0 461.8 L432.2 464.5 L437.3 467.2 L442.4 469.8 L447.6 472.4 L452.7 474.9 L457.8 477.5 L463.0 480.1 L468.1 482.6 L473.2 485.2 L478.3 487.8 L483.5 490.4 L488.6 493.3 L493.7 497.5 L498.9 502.0 L504.0 506.5 L504.0 506.5 L498.9 504.4 L493.7 502.7 L488.6 500.9 L483.5 498.9 L478.3 496.5 L473.2 493.7 L468.1 490.9 L463.0 487.9 L457.8 484.9 L452.7 481.9 L447.6 478.8 L442.4 475.8 L437.3 472.7 L432.2 469.5 L427.0 466.3 L421.9 463.2 L416.8 460.0 L411.7 456.8 L406.5 453.8 L401.4 450.7 L396.3 447.7 L391.1 444.9 L386.0 442.1Z" fill="#fdae30" filter="url(#b05)"/>
<path d="M400.0 449.3 L404.3 451.5 L408.6 453.6 L412.9 455.5 L417.2 457.5 L421.5 459.6 L425.8 461.8 L430.1 464.1 L434.4 466.4 L438.7 468.6 L443.0 470.8 L447.3 473.0 L451.7 475.1 L456.0 477.3 L460.3 479.4 L464.6 481.6 L468.9 483.7 L473.2 485.9 L477.5 488.1 L481.8 490.7 L486.1 493.6 L490.4 496.9 L494.7 500.3 L499.0 503.3 L499.0 503.3 L494.7 501.0 L490.4 499.3 L486.1 498.1 L481.8 497.0 L477.5 495.4 L473.2 493.0 L468.9 490.6 L464.6 488.1 L460.3 485.6 L456.0 483.1 L451.7 480.5 L447.3 478.0 L443.0 475.5 L438.7 472.9 L434.4 470.2 L430.1 467.6 L425.8 464.9 L421.5 462.2 L417.2 459.4 L412.9 456.6 L408.6 454.0 L404.3 451.6 L400.0 449.3Z" fill="#fc7e14" filter="url(#b08)"/>
<path d="M422.0 461.1 L425.0 462.8 L428.0 464.3 L431.0 465.8 L434.0 467.3 L437.0 468.7 L440.0 470.1 L443.0 471.6 L446.0 473.1 L449.0 474.6 L452.0 476.1 L455.0 477.6 L458.0 479.1 L461.0 480.6 L464.0 482.1 L467.0 483.6 L470.0 485.1 L473.0 486.6 L476.0 488.5 L479.0 490.5 L482.0 492.5 L485.0 494.4 L488.0 496.4 L491.0 498.4 L491.0 498.6 L488.0 497.2 L485.0 496.3 L482.0 495.5 L479.0 494.5 L476.0 493.4 L473.0 492.1 L470.0 490.4 L467.0 488.7 L464.0 487.0 L461.0 485.2 L458.0 483.5 L455.0 481.7 L452.0 480.0 L449.0 478.2 L446.0 476.4 L443.0 474.7 L440.0 472.9 L437.0 470.9 L434.0 468.8 L431.0 466.8 L428.0 464.9 L425.0 463.0 L422.0 461.2Z" fill="#fc4c10" filter="url(#b08)"/>
<path d="M450.0 476.9 L451.5 477.7 L453.0 478.4 L454.6 479.0 L456.1 479.7 L457.6 480.4 L459.1 481.0 L460.7 481.6 L462.2 482.4 L463.7 483.1 L465.2 483.9 L466.7 484.6 L468.3 485.4 L469.8 486.2 L471.3 487.0 L472.8 487.7 L474.3 488.5 L475.9 489.5 L477.4 490.5 L478.9 491.5 L480.4 492.5 L482.0 493.5 L483.5 494.4 L485.0 495.3 L485.0 495.4 L483.5 494.9 L482.0 494.4 L480.4 494.0 L478.9 493.4 L477.4 492.9 L475.9 492.3 L474.3 491.6 L472.8 490.8 L471.3 489.9 L469.8 489.1 L468.3 488.2 L466.7 487.4 L465.2 486.5 L463.7 485.6 L462.2 484.7 L460.7 483.8 L459.1 482.8 L457.6 481.8 L456.1 480.8 L454.6 479.8 L453.0 478.8 L451.5 477.9 L450.0 477.0Z" fill="#f83410" filter="url(#b08)"/>
<path d="M330.1 419.6 L331.5 420.1 L333.0 420.7 L334.4 421.2 L335.8 421.8 L337.2 422.3 L338.6 422.9 L340.0 423.4 L341.5 424.0 L342.9 424.6 L344.3 425.1 L345.7 425.7 L347.1 426.2 L348.5 426.8 L350.0 427.3 L351.4 427.9 L352.8 428.4 L354.2 429.0 L355.6 429.5 L357.0 430.1 L358.5 430.6 L359.9 431.2 L361.3 431.7 L362.7 432.3 L364.1 432.8 L365.5 433.4 L367.0 433.9 L368.4 434.5 L369.8 435.0 L371.2 435.6 L372.6 436.1 L374.1 436.7 L375.5 437.2 L376.9 437.8 L378.3 438.3 L379.7 438.8 L381.1 439.4 L382.6 439.9 L384.0 440.5 L385.4 441.0 L386.8 441.5 L388.2 442.1 L389.6 442.6 L391.1 443.2 L392.5 443.7 L393.9 444.2 L395.3 444.8 L396.7 445.3 L398.1 445.8 L399.6 446.4 L401.0 446.9 L402.4 447.4 L403.8 448.0 L405.2 448.5 L406.6 449.0 L408.1 449.5 L409.5 450.1 L410.9 450.6 L412.3 451.1 L413.7 451.6 L415.1 452.1 L416.6 452.7 L418.0 453.2 L419.4 453.7 L420.8 454.2 L422.2 454.7 L423.6 455.2 L425.1 455.7 L426.5 456.2 L427.9 456.7 L429.3 457.2 L430.7 457.7 L432.2 458.2 L433.6 458.7 L435.0 459.2 L436.4 459.7 L437.8 460.2 L439.2 460.7 L440.7 461.2 L442.1 461.7 L443.5 462.2 L444.9 462.6 L446.3 463.1 L447.7 463.6 L449.2 464.1 L450.6 464.5 L452.0 465.0 L453.4 465.4 L454.8 465.9 L456.2 466.4 L457.7 466.8 L459.1 467.3 L460.5 467.7 L461.9 468.1 L463.3 468.6 L464.7 469.0 L466.2 469.4 L467.6 469.9 L469.0 470.3 L470.4 470.7 L471.8 471.1 L473.2 471.5 L474.7 471.9 L476.1 472.3 L477.5 472.7 L478.9 473.1 L480.3 473.5 L481.8 473.9 L483.2 474.2 L484.6 474.6 L486.0 475.0 L487.4 475.3 L488.8 475.7 L490.3 476.0 L491.7 476.4 L493.1 476.7 L494.5 477.0 L495.9 477.4 L497.3 477.7 L498.8 478.0 L500.2 478.3 L501.6 478.6 L503.0 478.9 L504.4 479.2 L505.8 479.5 L507.3 479.7 L508.7 480.0 L510.1 480.2 L511.5 480.5 L512.9 480.7 L514.3 481.0 L515.8 481.2 L517.2 481.4 L518.6 481.7 L520.0 481.9 L521.4 482.1 L522.8 482.3 L524.3 482.5 L525.7 482.6 L527.1 482.8 L528.5 483.0 L529.9 483.2 L531.3 483.3 L532.8 483.5 L534.2 483.6 L535.6 483.8 L537.0 483.9 L538.4 484.0 L539.9 484.2 L541.3 484.3 L542.7 484.4 L544.1 484.5 L545.5 484.6 L546.9 484.7 L548.4 484.8 L549.8 484.9 L551.2 485.0 L552.6 485.1 L554.0 485.1 L555.4 485.2" fill="none" stroke="#606060" stroke-width="0.85"/>
<path d="M514.7 540.7 L514.8 540.3 L514.8 539.8 L514.8 539.4 L514.9 538.9 L514.9 538.5 L514.9 538.0 L515.0 537.6 L515.0 537.1 L515.0 536.7 L515.1 536.2 L515.1 535.8 L515.2 535.3 L515.2 534.9 L515.2 534.4 L515.3 534.0 L515.3 533.5 L515.4 533.1 L515.4 532.6 L515.5 532.2 L515.5 531.7 L515.6 531.3 L515.6 530.8 L515.7 530.4 L515.7 529.9 L515.8 529.5 L515.9 529.0 L515.9 528.6 L516.0 528.2 L516.0 527.7 L516.1 527.3 L516.2 526.8 L516.2 526.4 L516.3 525.9 L516.4 525.5 L516.5 525.0 L516.5 524.6 L516.6 524.1 L516.7 523.7 L516.8 523.2 L516.9 522.8 L517.0 522.3 L517.1 521.9 L517.1 521.4 L517.2 521.0 L517.3 520.5 L517.4 520.1 L517.6 519.6 L517.7 519.2 L517.8 518.7 L517.9 518.3 L518.0 517.8 L518.1 517.4 L518.3 516.9 L518.4 516.5 L518.5 516.0 L518.7 515.6 L518.8 515.1 L519.0 514.7 L519.1 514.2 L519.3 513.8 L519.4 513.3 L519.6 512.9 L519.8 512.5 L520.0 512.0 L520.1 511.6 L520.3 511.1 L520.5 510.7 L520.7 510.2 L520.9 509.8 L521.2 509.3 L521.4 508.9 L521.6 508.4 L521.9 508.0 L522.1 507.5 L522.4 507.1 L522.7 506.6 L522.9 506.2 L523.2 505.7 L523.5 505.3 L523.9 504.8 L524.2 504.4 L524.5 503.9 L524.9 503.5 L525.3 503.0 L525.6 502.6 L526.0 502.1 L526.5 501.7 L526.9 501.2 L527.4 500.8 L527.8 500.3 L528.3 499.9 L528.9 499.4 L529.4 499.0 L530.0 498.5 L530.6 498.1 L531.3 497.7 L531.9 497.2 L532.7 496.8 L533.4 496.3 L534.2 495.9 L535.1 495.4 L536.0 495.0 L537.0 494.5 L538.0 494.1 L539.2 493.6 L540.4 493.2 L541.7 492.7 L543.1 492.3 L544.7 491.8 L546.5 491.4 L548.4 490.9 L550.5 490.5 L553.0 490.0 L555.8 489.6 L559.1 489.1 L563.1 488.7 L568.1 488.2 L574.6 487.8 L584.1 487.3 L583.6 487.4 L583.0 487.4 L582.4 487.4 L581.8 487.4 L581.3 487.4 L580.7 487.5 L580.1 487.5 L579.5 487.5 L579.0 487.6 L578.4 487.6 L577.8 487.6 L577.2 487.6 L576.7 487.7 L576.1 487.7 L575.5 487.7 L574.9 487.8 L574.4 487.8 L573.8 487.8 L573.2 487.9 L572.6 487.9 L572.1 487.9 L571.5 488.0 L570.9 488.0 L570.3 488.1 L569.8 488.1 L569.2 488.1 L568.6 488.2 L568.0 488.2 L567.5 488.3 L566.9 488.3 L566.3 488.4 L565.7 488.4 L565.2 488.5 L564.6 488.5 L564.0 488.6 L563.4 488.6 L562.9 488.7 L562.3 488.8 L561.7 488.8 L561.1 488.9 L560.6 489.0 L560.0 489.0 L559.4 489.1 L558.8 489.2 L558.3 489.2 L557.7 489.3 L557.1 489.4 L556.5 489.5 L556.0 489.6 L555.4 489.6 L554.8 489.7 L554.2 489.8 L553.7 489.9 L553.1 490.0 L552.5 490.1 L551.9 490.2 L551.4 490.3 L550.8 490.4 L550.2 490.5" fill="none" stroke="#606060" stroke-width="0.85"/>
<path d="M330.1 403.0 L331.5 403.5 L333.0 404.1 L334.4 404.6 L335.8 405.2 L337.2 405.7 L338.6 406.3 L340.0 406.8 L341.5 407.4 L342.9 407.9 L344.3 408.4 L345.7 409.0 L347.1 409.5 L348.5 410.1 L350.0 410.6 L351.4 411.1 L352.8 411.7 L354.2 412.2 L355.6 412.7 L357.0 413.3 L358.5 413.8 L359.9 414.3 L361.3 414.9 L362.7 415.4 L364.1 415.9 L365.5 416.4 L367.0 417.0 L368.4 417.5 L369.8 418.0 L371.2 418.5 L372.6 419.1 L374.1 419.6 L375.5 420.1 L376.9 420.6 L378.3 421.1 L379.7 421.6 L381.1 422.1 L382.6 422.7 L384.0 423.2 L385.4 423.7 L386.8 424.2 L388.2 424.7 L389.6 425.2 L391.1 425.7 L392.5 426.2 L393.9 426.7 L395.3 427.2 L396.7 427.7 L398.1 428.1 L399.6 428.6 L401.0 429.1 L402.4 429.6 L403.8 430.1 L405.2 430.6 L406.6 431.0 L408.1 431.5 L409.5 432.0 L410.9 432.4 L412.3 432.9 L413.7 433.3 L415.1 433.8 L416.6 434.3 L418.0 434.7 L419.4 435.1 L420.8 435.6 L422.2 436.0 L423.6 436.5 L425.1 436.9 L426.5 437.3 L427.9 437.7 L429.3 438.2 L430.7 438.6 L432.2 439.0 L433.6 439.4 L435.0 439.8 L436.4 440.2 L437.8 440.6 L439.2 441.0 L440.7 441.3 L442.1 441.7 L443.5 442.1 L444.9 442.5 L446.3 442.8 L447.7 443.2 L449.2 443.5 L450.6 443.9 L452.0 444.2 L453.4 444.5 L454.8 444.8 L456.2 445.2 L457.7 445.5 L459.1 445.8 L460.5 446.1 L461.9 446.4 L463.3 446.7 L464.7 446.9 L466.2 447.2 L467.6 447.5 L469.0 447.7 L470.4 448.0 L471.8 448.2 L473.2 448.5 L474.7 448.7 L476.1 448.9 L477.5 449.2 L478.9 449.4 L480.3 449.6 L481.8 449.8 L483.2 450.0 L484.6 450.2 L486.0 450.3 L487.4 450.5 L488.8 450.7 L490.3 450.8 L491.7 451.0 L493.1 451.1 L494.5 451.3 L495.9 451.4 L497.3 451.5 L498.8 451.7 L500.2 451.8 L501.6 451.9 L503.0 452.0 L504.4 452.1 L505.8 452.2 L507.3 452.3 L508.7 452.4 L510.1 452.5 L511.5 452.6 L512.9 452.7 L514.3 452.7 L515.8 452.8 L517.2 452.9 L518.6 452.9 L520.0 453.0 L521.4 453.1 L522.8 453.1 L524.3 453.2 L525.7 453.2 L527.1 453.3 L528.5 453.3 L529.9 453.4 L531.3 453.4 L532.8 453.4 L534.2 453.5 L535.6 453.5 L537.0 453.5 L538.4 453.6 L539.9 453.6 L541.3 453.6 L542.7 453.6 L544.1 453.7 L545.5 453.7 L546.9 453.7 L548.4 453.7 L549.8 453.8 L551.2 453.8 L552.6 453.8 L554.0 453.8 L555.4 453.8" fill="none" stroke="#606060" stroke-width="0.85" stroke-dasharray="4.1 2.7"/>
</g>
<rect x="555.5" y="403.1" width="9.9" height="125.1" fill="url(#cb)"/>
<path d="M555.5 428.12h4.5M565.4 428.12h-4.5M555.5 420.59h2.6M565.4 420.59h-2.6M555.5 410.63h2.6M565.4 410.63h-2.6M555.5 405.52h2.6M565.4 405.52h-2.6M555.5 453.14h4.5M565.4 453.14h-4.5M555.5 445.61h2.6M565.4 445.61h-2.6M555.5 435.65h2.6M565.4 435.65h-2.6M555.5 430.54h2.6M565.4 430.54h-2.6M555.5 478.16h4.5M565.4 478.16h-4.5M555.5 470.63h2.6M565.4 470.63h-2.6M555.5 460.67h2.6M565.4 460.67h-2.6M555.5 455.56h2.6M565.4 455.56h-2.6M555.5 503.18h4.5M565.4 503.18h-4.5M555.5 495.65h2.6M565.4 495.65h-2.6M555.5 485.69h2.6M565.4 485.69h-2.6M555.5 480.58h2.6M565.4 480.58h-2.6M555.5 520.67h2.6M565.4 520.67h-2.6M555.5 510.71h2.6M565.4 510.71h-2.6M555.5 505.60h2.6M565.4 505.60h-2.6" stroke="#000" stroke-width="0.85" fill="none"/>
<rect x="555.5" y="403.1" width="9.9" height="125.1" fill="none" stroke="#111" stroke-width="1.25"/>
<rect x="340.6" y="403.1" width="209.6" height="125.1" fill="none" stroke="#111" stroke-width="1.25"/>
<g font-family="'Liberation Serif','DejaVu Serif',serif" fill="#1a1a1a">
<text transform="translate(333.50 546.40) scale(1.43 1)" font-size="11">−</text>
<text x="342.2" y="546.4" font-size="11">3</text>
<text transform="translate(385.90 546.40) scale(1.43 1)" font-size="11">−</text>
<text x="394.6" y="546.4" font-size="11">2</text>
<text transform="translate(438.30 546.40) scale(1.43 1)" font-size="11">−</text>
<text x="447.0" y="546.4" font-size="11">1</text>
<text x="497.8" y="546.4" font-size="11" text-anchor="middle">0</text>
<text x="550.2" y="546.4" font-size="11" text-anchor="middle">1</text>
<text x="331.3" y="531.2" font-size="11" text-anchor="end">1</text>
<text transform="translate(316.75 531.20) scale(1.43 1)" font-size="11">−</text>
<text x="331.3" y="489.5" font-size="11" text-anchor="end">0</text>
<text x="331.3" y="447.8" font-size="11" text-anchor="end">1</text>
<text x="331.3" y="406.1" font-size="11" text-anchor="end">2</text>
<text x="574.6" y="406.1" font-size="11">10</text>
<text transform="translate(586.60 402.50) scale(1.65 1)" font-size="7.6">−</text>
<text x="594.1" y="402.5" font-size="7.6">2</text>
<text x="574.6" y="431.1" font-size="11">10</text>
<text transform="translate(586.60 427.52) scale(1.65 1)" font-size="7.6">−</text>
<text x="594.1" y="427.5" font-size="7.6">3</text>
<text x="574.6" y="456.1" font-size="11">10</text>
<text transform="translate(586.60 452.54) scale(1.65 1)" font-size="7.6">−</text>
<text x="594.1" y="452.5" font-size="7.6">4</text>
<text x="574.6" y="481.2" font-size="11">10</text>
<text transform="translate(586.60 477.56) scale(1.65 1)" font-size="7.6">−</text>
<text x="594.1" y="477.6" font-size="7.6">5</text>
<text x="574.6" y="506.2" font-size="11">10</text>
<text transform="translate(586.60 502.58) scale(1.65 1)" font-size="7.6">−</text>
<text x="594.1" y="502.6" font-size="7.6">6</text>
<text x="574.6" y="531.2" font-size="11">10</text>
<text transform="translate(586.60 527.60) scale(1.65 1)" font-size="7.6">−</text>
<text x="594.1" y="527.6" font-size="7.6">7</text>
<text x="430.8" y="560.7" font-size="11.2">log</text>
<text x="447.6" y="560.7" font-size="12" font-style="italic">β</text>
<text transform="translate(454.05 565.20) scale(1.9 1)" font-size="10.8">‖</text>
<text transform="translate(316.8 466.3) rotate(-90)" font-size="11.4" text-anchor="middle" word-spacing="0.8">log <tspan font-style="italic">A</tspan></text>
<text x="387.8" y="390.1" font-size="11.6" font-weight="bold">B<tspan dx="1.4">1:</tspan></text>
<text x="413.1" y="390.1" font-size="11.2" font-style="italic">β</text>
<text x="419.7" y="392.0" font-size="7.6">0</text>
<text transform="translate(428.7 390.1) scale(1.3 1)" font-size="10.9">=</text>
<text x="440.8" y="390.1" font-size="10.9">0.2,</text>
<text transform="translate(463.5 390.1) scale(1.4 1)" font-size="10.9" font-style="italic">ν</text>
<text x="471.3" y="392.1" font-size="8.6" font-style="italic">S</text>
<text transform="translate(481.5 390.1) scale(1.3 1)" font-size="10.9">=</text>
<text transform="translate(492.3 390.7) scale(1.35 1.2)" font-size="10.9">∞</text>
</g>
</svg>
</body></html>
